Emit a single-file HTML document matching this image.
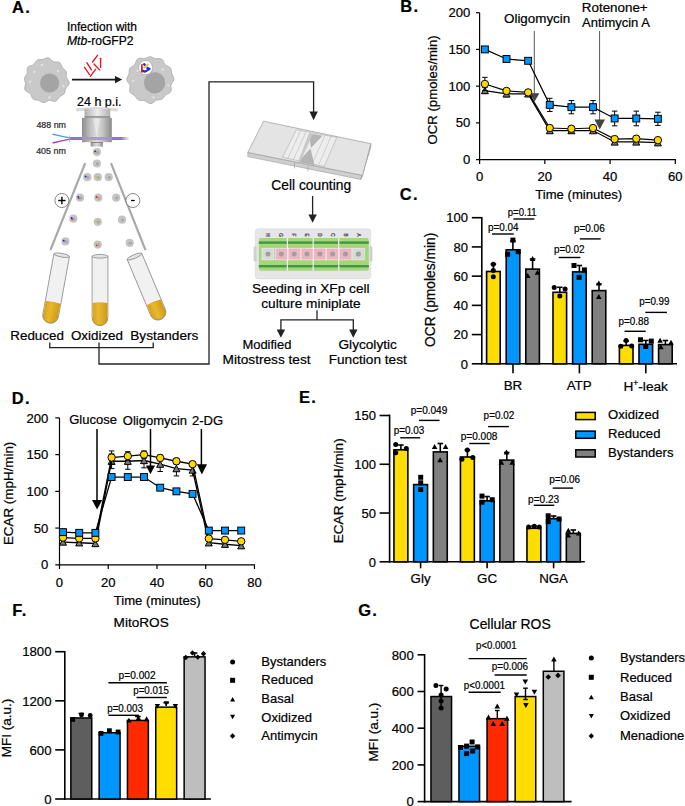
<!DOCTYPE html><html><head><meta charset="utf-8"><style>html,body{margin:0;padding:0;background:#fff}svg{display:block}</style></head><body>
<svg width="685" height="806" viewBox="0 0 685 806" font-family="'Liberation Sans', sans-serif">
<style>text{stroke:currentColor;stroke-width:0.22px;paint-order:stroke}</style>
<rect width="685" height="806" fill="#fff"/>
<defs>
<linearGradient id="gbody" x1="0" x2="1" y1="0" y2="0">
<stop offset="0" stop-color="#8e8e8e"/><stop offset="0.3" stop-color="#c4c4c4"/><stop offset="0.5" stop-color="#dcdcdc"/><stop offset="0.7" stop-color="#c4c4c4"/><stop offset="1" stop-color="#8a8a8a"/>
</linearGradient>
<linearGradient id="gtop" x1="0" x2="1" y1="0" y2="0">
<stop offset="0" stop-color="#b0b0b0"/><stop offset="0.5" stop-color="#eeeeee"/><stop offset="1" stop-color="#b0b0b0"/>
</linearGradient>
<linearGradient id="gliq" x1="0" x2="1" y1="0" y2="0">
<stop offset="0" stop-color="#d9a21a"/><stop offset="0.4" stop-color="#e8b830"/><stop offset="1" stop-color="#d29a14"/>
</linearGradient>
<linearGradient id="glaserB" x1="0" x2="1"><stop offset="0" stop-color="#3aa0e0" stop-opacity="0.2"/><stop offset="1" stop-color="#2a70d8"/></linearGradient>
<linearGradient id="glaserP" x1="0" x2="1"><stop offset="0" stop-color="#9a40c0" stop-opacity="0.2"/><stop offset="1" stop-color="#8a3ac0"/></linearGradient>
<linearGradient id="glaser" x1="0" x2="1"><stop offset="0" stop-color="#5a50d0"/><stop offset="0.85" stop-color="#6060e0"/><stop offset="1" stop-color="#8a60e0" stop-opacity="0.1"/></linearGradient>
</defs>
<text x="12.00" y="12.90" font-size="16.5" text-anchor="start" font-weight="bold" fill="#000"  letter-spacing="1.3">A.</text>
<text x="67.00" y="30.70" font-size="12" text-anchor="start" font-weight="normal" fill="#000" >Infection with</text>
<text x="67.0" y="45.2" font-size="12.1"><tspan font-style="italic">Mtb</tspan>-roGFP2</text>
<path d="M68.44,80.60 L69.15,82.20 L69.10,83.82 L68.28,85.29 L67.07,86.58 L65.99,87.80 L65.36,89.13 L65.10,90.65 L64.84,92.25 L64.21,93.69 L63.10,94.78 L61.68,95.55 L60.30,96.26 L59.17,97.20 L58.26,98.48 L57.34,99.89 L56.15,101.00 L54.62,101.44 L52.89,101.20 L51.20,100.65 L49.68,100.32 L48.30,100.56 L46.92,101.32 L45.45,102.17 L43.89,102.62 L42.36,102.40 L40.95,101.66 L39.63,100.81 L38.27,100.23 L36.74,99.99 L35.11,99.80 L33.59,99.29 L32.43,98.23 L31.68,96.73 L31.14,95.14 L30.45,93.82 L29.32,92.86 L27.79,92.10 L26.22,91.22 L25.09,90.00 L24.68,88.43 L24.90,86.71 L25.31,85.04 L25.47,83.51 L25.19,82.07 L24.71,80.60 L24.43,79.08 L24.68,77.58 L25.45,76.19 L26.39,74.92 L27.05,73.63 L27.24,72.16 L27.14,70.47 L27.20,68.73 L27.81,67.24 L29.07,66.22 L30.72,65.65 L32.35,65.22 L33.66,64.55 L34.62,63.43 L35.47,62.02 L36.49,60.70 L37.82,59.85 L39.37,59.57 L40.96,59.59 L42.48,59.50 L43.94,59.06 L45.42,58.36 L47.00,57.81 L48.59,57.86 L50.07,58.65 L51.36,59.90 L52.54,61.10 L53.79,61.82 L55.28,61.99 L56.98,61.93 L58.67,62.12 L60.04,62.88 L60.97,64.19 L61.59,65.74 L62.20,67.18 L63.08,68.33 L64.25,69.32 L65.41,70.38 L66.20,71.70 L66.43,73.24 L66.27,74.85 L66.16,76.36 L66.50,77.75 L67.37,79.12 L68.44,80.60Z" fill="#c9c9c9" stroke="#a9a9a9" stroke-width="0.8"/>
<circle cx="49.6" cy="83.0" r="9.6" fill="#a4a4a4"/>
<circle cx="41.88" cy="65.05" r="1.2" fill="#e2e2e2"/>
<circle cx="58.08" cy="70.88" r="1.2" fill="#e2e2e2"/>
<circle cx="30.00" cy="81.68" r="1.2" fill="#e2e2e2"/>
<circle cx="49.44" cy="97.45" r="1.2" fill="#e2e2e2"/>
<circle cx="34.32" cy="71.96" r="1.2" fill="#e2e2e2"/>
<circle cx="63.48" cy="86.00" r="1.2" fill="#e2e2e2"/>
<path d="M173.86,79.70 L173.20,81.31 L172.16,82.79 L171.26,84.18 L170.89,85.63 L171.02,87.28 L171.27,89.08 L171.14,90.83 L170.32,92.27 L168.92,93.30 L167.30,94.05 L165.87,94.83 L164.76,95.87 L163.85,97.17 L162.85,98.45 L161.56,99.37 L159.99,99.78 L158.35,99.87 L156.82,100.06 L155.44,100.70 L154.09,101.78 L152.64,102.95 L151.04,103.66 L149.37,103.56 L147.78,102.74 L146.33,101.64 L144.94,100.79 L143.46,100.45 L141.80,100.49 L140.07,100.47 L138.48,100.00 L137.20,98.97 L136.20,97.62 L135.25,96.30 L134.10,95.25 L132.68,94.40 L131.22,93.49 L130.10,92.26 L129.62,90.64 L129.73,88.82 L130.03,87.04 L130.03,85.48 L129.45,84.11 L128.41,82.76 L127.39,81.30 L126.88,79.70 L127.09,78.08 L127.81,76.55 L128.60,75.11 L129.07,73.64 L129.20,72.06 L129.27,70.38 L129.70,68.80 L130.69,67.51 L132.08,66.54 L133.51,65.70 L134.64,64.68 L135.39,63.25 L136.00,61.52 L136.81,59.85 L138.06,58.68 L139.73,58.24 L141.57,58.35 L143.34,58.58 L144.91,58.49 L146.37,57.95 L147.84,57.23 L149.40,56.76 L151.00,56.85 L152.54,57.46 L153.99,58.21 L155.44,58.67 L157.02,58.71 L158.75,58.54 L160.49,58.61 L161.97,59.31 L163.05,60.65 L163.77,62.33 L164.44,63.89 L165.39,65.03 L166.78,65.79 L168.41,66.47 L169.90,67.39 L170.89,68.70 L171.32,70.30 L171.48,71.96 L171.76,73.52 L172.38,74.99 L173.21,76.47 L173.84,78.05 L173.86,79.70Z" fill="#c9c9c9" stroke="#a9a9a9" stroke-width="0.8"/>
<circle cx="154.6" cy="82.8" r="10.6" fill="#a4a4a4"/>
<circle cx="145.68" cy="63.43" r="1.2" fill="#e2e2e2"/>
<circle cx="162.63" cy="69.53" r="1.2" fill="#e2e2e2"/>
<circle cx="133.25" cy="80.83" r="1.2" fill="#e2e2e2"/>
<circle cx="153.59" cy="97.33" r="1.2" fill="#e2e2e2"/>
<circle cx="137.77" cy="70.66" r="1.2" fill="#e2e2e2"/>
<circle cx="168.28" cy="85.35" r="1.2" fill="#e2e2e2"/>
<circle cx="145.6" cy="67.7" r="7.1" fill="#ffffff" stroke="#9a9a9a" stroke-width="0.6"/>
<path d="M141.1,70.4 L145.0,71.6 L149.6,68.9 L146.6,67.4" stroke="#1428f0" stroke-width="2.2" fill="none" stroke-linejoin="round"/>
<path d="M143.4,63.4 L145.3,65.4" stroke="#1428f0" stroke-width="2.2" fill="none"/>
<path d="M143.8,68.0 L148.5,63.8" stroke="#e8c21e" stroke-width="1.8"/>
<path d="M141.9,64.2 L141.9,72.4" stroke="#f01010" stroke-width="1.7"/>
<line x1="72.00" y1="79.60" x2="116.00" y2="79.60" stroke="#1a1a1a" stroke-width="1.6" />
<polygon points="115.00,75.90 122.20,79.60 115.00,83.30" fill="#1a1a1a" stroke="none" stroke-width="0" />
<line x1="84.60" y1="67.30" x2="89.40" y2="74.50" stroke="#f5101a" stroke-width="1.35" stroke-linecap="round"/>
<line x1="86.80" y1="62.70" x2="91.40" y2="69.90" stroke="#f5101a" stroke-width="1.35" stroke-linecap="round"/>
<line x1="90.30" y1="76.30" x2="95.50" y2="69.30" stroke="#f5101a" stroke-width="1.35" stroke-linecap="round"/>
<line x1="92.50" y1="62.00" x2="97.50" y2="55.30" stroke="#f5101a" stroke-width="1.35" stroke-linecap="round"/>
<line x1="94.00" y1="64.00" x2="99.60" y2="69.90" stroke="#f5101a" stroke-width="1.35" stroke-linecap="round"/>
<line x1="100.60" y1="58.30" x2="100.60" y2="67.30" stroke="#f5101a" stroke-width="1.35" stroke-linecap="round"/>
<text x="77.00" y="105.70" font-size="12.5" text-anchor="start" font-weight="normal" fill="#000" >24 h p.i.</text>
<path d="M75.6,108.6 Q96.9,105.5 118.2,108.6 L117.2,111.4 Q96.9,109.0 76.6,111.4 Z" fill="#dadada"/>
<rect x="84.5" y="108.8" width="25.7" height="8.9" fill="url(#gtop)"/>
<rect x="84.5" y="116.2" width="25.7" height="1.6" fill="#8a8a8a"/>
<rect x="82.0" y="117.9" width="29.8" height="24.3" fill="url(#gbody)"/>
<path d="M93.2,118.5 L96.6,137 L100.4,118.5 Z" fill="#ececec" opacity="0.75"/>
<rect x="90.7" y="142.2" width="12.2" height="4.4" fill="url(#gbody)"/>
<rect x="90.7" y="142.2" width="12.2" height="0.8" fill="#777"/>
<path d="M52.5,134.2 Q62,136.6 70,137.9" stroke="#3aa0e0" stroke-width="1.3" fill="none"/>
<path d="M52.5,143.0 Q62,140.6 70,139.2" stroke="#a040b8" stroke-width="1.3" fill="none"/>
<line x1="69.50" y1="135.50" x2="69.50" y2="141.80" stroke="#b0b0b0" stroke-width="0.9" />
<defs><linearGradient id="gfade" x1="0" x2="1"><stop offset="0" stop-color="#fff" stop-opacity="0"/><stop offset="1" stop-color="#fff" stop-opacity="0.9"/></linearGradient></defs>
<rect x="70" y="137.2" width="59" height="1.3" fill="#2f6ad8"/>
<rect x="70" y="138.5" width="59" height="1.3" fill="#8a3cc0"/>
<rect x="82" y="137.0" width="29.8" height="3.0" fill="#c8c8c8" opacity="0.55"/>
<rect x="121" y="137.0" width="8" height="3.0" fill="url(#gfade)"/>
<text x="36.40" y="127.70" font-size="8.9" text-anchor="start" font-weight="normal" fill="#333" >488 nm</text>
<text x="36.20" y="153.60" font-size="8.9" text-anchor="start" font-weight="normal" fill="#333" >405 nm</text>
<circle cx="96.90" cy="152.10" r="4.1" fill="#c4c4c4"/>
<circle cx="97.50" cy="152.40" r="1.6" fill="#a8a8a8"/>
<circle cx="95.20" cy="151.50" r="1.0" fill="#2030d0"/>
<circle cx="95.70" cy="153.00" r="0.8" fill="#e8b820"/>
<circle cx="96.90" cy="163.50" r="4.1" fill="#c4c4c4"/>
<circle cx="97.50" cy="163.80" r="1.6" fill="#a8a8a8"/>
<circle cx="87.30" cy="177.20" r="4.1" fill="#c4c4c4"/>
<circle cx="87.90" cy="177.50" r="1.6" fill="#a8a8a8"/>
<circle cx="85.60" cy="176.60" r="1.0" fill="#2030d0"/>
<circle cx="97.80" cy="177.20" r="4.1" fill="#c4c4c4"/>
<circle cx="98.40" cy="177.50" r="1.6" fill="#a8a8a8"/>
<circle cx="96.10" cy="176.60" r="1.0" fill="#e8b820"/>
<circle cx="108.70" cy="177.20" r="4.1" fill="#c4c4c4"/>
<circle cx="109.30" cy="177.50" r="1.6" fill="#a8a8a8"/>
<circle cx="80.00" cy="197.70" r="4.1" fill="#c4c4c4"/>
<circle cx="80.60" cy="198.00" r="1.6" fill="#a8a8a8"/>
<circle cx="78.30" cy="197.10" r="1.0" fill="#2030d0"/>
<circle cx="78.80" cy="198.60" r="0.8" fill="#e02020"/>
<circle cx="98.30" cy="197.70" r="4.1" fill="#c4c4c4"/>
<circle cx="98.90" cy="198.00" r="1.6" fill="#a8a8a8"/>
<circle cx="96.60" cy="197.10" r="1.0" fill="#e02020"/>
<circle cx="97.10" cy="198.60" r="0.8" fill="#e8b820"/>
<circle cx="116.20" cy="197.70" r="4.1" fill="#c4c4c4"/>
<circle cx="116.80" cy="198.00" r="1.6" fill="#a8a8a8"/>
<circle cx="73.30" cy="218.70" r="4.1" fill="#c4c4c4"/>
<circle cx="73.90" cy="219.00" r="1.6" fill="#a8a8a8"/>
<circle cx="71.60" cy="218.10" r="1.0" fill="#2030d0"/>
<circle cx="72.10" cy="219.60" r="0.8" fill="#e02020"/>
<circle cx="97.80" cy="221.80" r="4.1" fill="#c4c4c4"/>
<circle cx="98.40" cy="222.10" r="1.6" fill="#a8a8a8"/>
<circle cx="96.10" cy="221.20" r="1.0" fill="#e8b820"/>
<circle cx="122.00" cy="219.70" r="4.1" fill="#c4c4c4"/>
<circle cx="122.60" cy="220.00" r="1.6" fill="#a8a8a8"/>
<circle cx="65.40" cy="241.40" r="4.1" fill="#c4c4c4"/>
<circle cx="66.00" cy="241.70" r="1.6" fill="#a8a8a8"/>
<circle cx="63.70" cy="240.80" r="1.0" fill="#2030d0"/>
<circle cx="97.80" cy="244.60" r="4.1" fill="#c4c4c4"/>
<circle cx="98.40" cy="244.90" r="1.6" fill="#a8a8a8"/>
<circle cx="96.10" cy="244.00" r="1.0" fill="#e8b820"/>
<circle cx="96.60" cy="245.50" r="0.8" fill="#e02020"/>
<circle cx="129.70" cy="242.90" r="4.1" fill="#c4c4c4"/>
<circle cx="130.30" cy="243.20" r="1.6" fill="#a8a8a8"/>
<line x1="85.20" y1="163.10" x2="50.50" y2="249.90" stroke="#a8a8a8" stroke-width="2.2" />
<line x1="111.00" y1="163.10" x2="145.50" y2="250.20" stroke="#a8a8a8" stroke-width="2.2" />
<circle cx="61.9" cy="200.5" r="7" fill="#fff" stroke="#555" stroke-width="0.7"/>
<line x1="58.20" y1="200.50" x2="65.60" y2="200.50" stroke="#000" stroke-width="1.4" />
<line x1="61.90" y1="196.80" x2="61.90" y2="204.20" stroke="#000" stroke-width="1.4" />
<circle cx="132.9" cy="200.5" r="7" fill="#fff" stroke="#555" stroke-width="0.7"/>
<line x1="131.00" y1="200.50" x2="134.80" y2="200.50" stroke="#000" stroke-width="1.3" />
<g transform="rotate(0 100.00 256.30)">
<path d="M92.10,256.30 L92.10,317.80 A7.9,7.9 0 0 0 107.90,317.80 L107.90,256.30 Z" fill="#f1f1f1" stroke="#8c8c8c" stroke-width="0.8"/>
<path d="M92.60,303.00 Q100.00,301.50 107.40,303.00 L107.40,317.80 A7.4,7.4 0 0 1 92.60,317.80 Z" fill="url(#gliq)"/>
<path d="M107.40,317.80 A7.4,7.4 0 0 1 92.60,317.80" fill="none" stroke="#b88a10" stroke-width="0.7"/>
<ellipse cx="100.00" cy="256.30" rx="7.90" ry="1.8" fill="#e4e4e4" stroke="#8c8c8c" stroke-width="0.8"/>
</g>
<g transform="rotate(10.4 61.70 255.20)">
<path d="M53.80,255.20 L53.80,316.40 A7.9,7.9 0 0 0 69.60,316.40 L69.60,255.20 Z" fill="#f1f1f1" stroke="#8c8c8c" stroke-width="0.8"/>
<path d="M54.30,303.20 Q61.70,301.70 69.10,303.20 L69.10,316.40 A7.4,7.4 0 0 1 54.30,316.40 Z" fill="url(#gliq)"/>
<path d="M69.10,316.40 A7.4,7.4 0 0 1 54.30,316.40" fill="none" stroke="#b88a10" stroke-width="0.7"/>
<ellipse cx="61.70" cy="255.20" rx="7.90" ry="1.8" fill="#e4e4e4" stroke="#8c8c8c" stroke-width="0.8"/>
</g>
<g transform="rotate(-22.8 134.50 256.50)">
<path d="M126.60,256.50 L126.60,316.90 A7.9,7.9 0 0 0 142.40,316.90 L142.40,256.50 Z" fill="#f1f1f1" stroke="#8c8c8c" stroke-width="0.8"/>
<path d="M127.10,306.20 Q134.50,304.70 141.90,306.20 L141.90,316.90 A7.4,7.4 0 0 1 127.10,316.90 Z" fill="url(#gliq)"/>
<path d="M141.90,316.90 A7.4,7.4 0 0 1 127.10,316.90" fill="none" stroke="#b88a10" stroke-width="0.7"/>
<ellipse cx="134.50" cy="256.50" rx="7.90" ry="1.8" fill="#e4e4e4" stroke="#8c8c8c" stroke-width="0.8"/>
</g>
<text x="10.30" y="339.60" font-size="13.4" text-anchor="start" font-weight="normal" fill="#000" >Reduced</text>
<text x="70.90" y="339.60" font-size="13.4" text-anchor="start" font-weight="normal" fill="#000" >Oxidized</text>
<text x="130.30" y="339.60" font-size="13.6" text-anchor="start" font-weight="normal" fill="#000" >Bystanders</text>
<polyline points="49.80,342.50 49.80,347.60 153.20,347.60 153.20,342.50" fill="none" stroke="#222" stroke-width="1.3" />
<polyline points="99.00,342.50 99.00,364.00 209.00,364.00 209.00,81.90 313.60,81.90 313.60,112.00" fill="none" stroke="#222" stroke-width="1.3" />
<polygon points="309.40,111.60 317.80,111.60 313.60,120.20" fill="#222" stroke="none" stroke-width="0" />
<polygon points="247.80,152.50 362.60,175.40 360.60,179.40 247.80,156.60" fill="#cfcfcf" stroke="#9a9a9a" stroke-width="0.6" />
<polygon points="362.60,175.40 370.80,143.70 370.80,147.60 360.60,179.40" fill="#c4c4c4" stroke="#9a9a9a" stroke-width="0.6" />
<polygon points="263.50,121.20 370.80,143.70 362.60,175.40 247.80,152.50" fill="#e4e4e4" stroke="#9a9a9a" stroke-width="0.7" />
<polygon points="296.30,129.80 336.80,137.50 324.20,166.50 282.60,157.20" fill="#ededed" stroke="#a4a4a4" stroke-width="0.5" />
<line x1="300.50" y1="131.00" x2="287.50" y2="159.00" stroke="#b0b0b0" stroke-width="0.5" />
<line x1="306.00" y1="132.00" x2="293.00" y2="160.30" stroke="#b0b0b0" stroke-width="0.5" />
<line x1="325.00" y1="135.50" x2="312.00" y2="163.80" stroke="#b0b0b0" stroke-width="0.5" />
<line x1="331.00" y1="136.50" x2="318.50" y2="165.20" stroke="#b0b0b0" stroke-width="0.5" />
<polygon points="309.00,133.20 322.50,135.80 311.00,148.00" fill="#b4b4b4" stroke="none" stroke-width="0" />
<polygon points="310.50,148.50 314.50,165.00 298.00,162.00" fill="#b4b4b4" stroke="none" stroke-width="0" />
<polygon points="309.00,133.20 313.00,134.00 300.00,162.30 298.00,162.00" fill="#c8c8c8" stroke="none" stroke-width="0" />
<line x1="294.50" y1="163.00" x2="294.50" y2="168.50" stroke="#999" stroke-width="0.6" />
<line x1="308.00" y1="166.00" x2="308.00" y2="171.50" stroke="#999" stroke-width="0.6" />
<text x="271.30" y="190.30" font-size="13.8" text-anchor="start" font-weight="normal" fill="#000" >Cell counting</text>
<line x1="312.60" y1="196.00" x2="312.60" y2="215.50" stroke="#222" stroke-width="1.3" />
<polygon points="308.40,214.50 316.80,214.50 312.60,222.70" fill="#222" stroke="none" stroke-width="0" />
<rect x="255.3" y="228.8" width="115.5" height="50.1" rx="3" fill="#e6e6e6" stroke="#d6d6d6" stroke-width="0.6"/>
<rect x="253.6" y="246.5" width="3" height="15" fill="#d0d0d0"/><rect x="369.5" y="246.5" width="3" height="15" fill="#d0d0d0"/>
<rect x="258.8" y="238.0" width="110" height="32.7" rx="2" fill="#a6d67c"/>
<rect x="258.8" y="241.4" width="110" height="2.4" fill="#3d9a3d"/>
<rect x="258.8" y="265.0" width="110" height="2.4" fill="#3d9a3d"/>
<rect x="286.80" y="238" width="1.2" height="32.7" fill="#f4f4f4"/>
<rect x="312.60" y="238" width="1.2" height="32.7" fill="#f4f4f4"/>
<rect x="338.10" y="238" width="1.2" height="32.7" fill="#f4f4f4"/>
<rect x="262.00" y="248.2" width="12" height="11.7" fill="#d8d8d8" stroke="#f8f8f8" stroke-width="0.5"/>
<circle cx="268.00" cy="254.1" r="2.5" fill="#a0a0a0"/>
<rect x="275.30" y="248.2" width="12" height="11.7" fill="#efb3c3" stroke="#f8f8f8" stroke-width="0.5"/>
<circle cx="281.30" cy="254.1" r="2.5" fill="#a0a0a0"/>
<rect x="288.20" y="248.2" width="12" height="11.7" fill="#efb3c3" stroke="#f8f8f8" stroke-width="0.5"/>
<circle cx="294.20" cy="254.1" r="2.5" fill="#a0a0a0"/>
<rect x="301.00" y="248.2" width="12" height="11.7" fill="#efb3c3" stroke="#f8f8f8" stroke-width="0.5"/>
<circle cx="307.00" cy="254.1" r="2.5" fill="#a0a0a0"/>
<rect x="313.80" y="248.2" width="12" height="11.7" fill="#efb3c3" stroke="#f8f8f8" stroke-width="0.5"/>
<circle cx="319.80" cy="254.1" r="2.5" fill="#a0a0a0"/>
<rect x="326.60" y="248.2" width="12" height="11.7" fill="#efb3c3" stroke="#f8f8f8" stroke-width="0.5"/>
<circle cx="332.60" cy="254.1" r="2.5" fill="#a0a0a0"/>
<rect x="339.40" y="248.2" width="12" height="11.7" fill="#efb3c3" stroke="#f8f8f8" stroke-width="0.5"/>
<circle cx="345.40" cy="254.1" r="2.5" fill="#a0a0a0"/>
<rect x="352.40" y="248.2" width="12" height="11.7" fill="#d8d8d8" stroke="#f8f8f8" stroke-width="0.5"/>
<circle cx="358.40" cy="254.1" r="2.5" fill="#a0a0a0"/>
<text x="268.00" y="236.6" font-size="4.6" fill="#555" text-anchor="middle" transform="rotate(90 268.00 235)">H</text>
<text x="280.90" y="236.6" font-size="4.6" fill="#555" text-anchor="middle" transform="rotate(90 280.90 235)">G</text>
<text x="293.80" y="236.6" font-size="4.6" fill="#555" text-anchor="middle" transform="rotate(90 293.80 235)">F</text>
<text x="306.70" y="236.6" font-size="4.6" fill="#555" text-anchor="middle" transform="rotate(90 306.70 235)">E</text>
<text x="319.60" y="236.6" font-size="4.6" fill="#555" text-anchor="middle" transform="rotate(90 319.60 235)">D</text>
<text x="332.50" y="236.6" font-size="4.6" fill="#555" text-anchor="middle" transform="rotate(90 332.50 235)">C</text>
<text x="345.40" y="236.6" font-size="4.6" fill="#555" text-anchor="middle" transform="rotate(90 345.40 235)">B</text>
<text x="358.30" y="236.6" font-size="4.6" fill="#555" text-anchor="middle" transform="rotate(90 358.30 235)">A</text>
<text x="252.00" y="292.70" font-size="13.65" text-anchor="start" font-weight="normal" fill="#000" >Seeding in XFp cell</text>
<text x="261.30" y="307.80" font-size="13.65" text-anchor="start" font-weight="normal" fill="#000" >culture miniplate</text>
<polyline points="317.00,310.20 317.00,319.80" fill="none" stroke="#222" stroke-width="1.3" />
<polyline points="280.90,330.00 280.90,319.80 353.30,319.80 353.30,330.00" fill="none" stroke="#222" stroke-width="1.3" />
<polygon points="276.70,329.50 285.10,329.50 280.90,337.70" fill="#222" stroke="none" stroke-width="0" />
<polygon points="349.10,329.50 357.50,329.50 353.30,337.70" fill="#222" stroke="none" stroke-width="0" />
<text x="242.40" y="348.70" font-size="13.65" text-anchor="start" font-weight="normal" fill="#000" textLength="49.0" lengthAdjust="spacingAndGlyphs" >Modified</text>
<text x="222.60" y="364.00" font-size="13.65" text-anchor="start" font-weight="normal" fill="#000" >Mitostress test</text>
<text x="338.50" y="348.70" font-size="13.65" text-anchor="start" font-weight="normal" fill="#000" >Glycolytic</text>
<text x="328.70" y="364.30" font-size="13.65" text-anchor="start" font-weight="normal" fill="#000" >Function test</text>
<text x="400.30" y="12.30" font-size="16.5" text-anchor="start" font-weight="bold" fill="#000"  letter-spacing="1.3">B.</text>
<line x1="534.30" y1="31.00" x2="534.30" y2="94.00" stroke="#555" stroke-width="1.0" />
<polygon points="529.80,93.30 539.40,93.30 534.60,101.60" fill="#444" stroke="none" stroke-width="0" />
<line x1="599.60" y1="31.00" x2="599.60" y2="120.00" stroke="#555" stroke-width="1.0" />
<polygon points="594.40,119.60 605.00,119.60 599.70,129.50" fill="#444" stroke="none" stroke-width="0" />
<text x="504.00" y="22.60" font-size="13.4" text-anchor="start" font-weight="normal" fill="#000" >Oligomycin</text>
<text x="581.80" y="11.60" font-size="13.4" text-anchor="start" font-weight="normal" fill="#000" >Rotenone+</text>
<text x="582.00" y="27.00" font-size="13.0" text-anchor="start" font-weight="normal" fill="#000" >Antimycin A</text>
<line x1="479.60" y1="12.70" x2="479.60" y2="164.00" stroke="#000" stroke-width="1.2" />
<line x1="476.00" y1="159.60" x2="676.00" y2="159.60" stroke="#000" stroke-width="1.2" />
<line x1="476.00" y1="122.88" x2="479.60" y2="122.88" stroke="#000" stroke-width="1.2" />
<line x1="476.00" y1="86.15" x2="479.60" y2="86.15" stroke="#000" stroke-width="1.2" />
<line x1="476.00" y1="49.42" x2="479.60" y2="49.42" stroke="#000" stroke-width="1.2" />
<line x1="476.00" y1="12.70" x2="479.60" y2="12.70" stroke="#000" stroke-width="1.2" />
<line x1="544.84" y1="159.60" x2="544.84" y2="164.00" stroke="#000" stroke-width="1.2" />
<line x1="610.08" y1="159.60" x2="610.08" y2="164.00" stroke="#000" stroke-width="1.2" />
<line x1="675.32" y1="159.60" x2="675.32" y2="164.00" stroke="#000" stroke-width="1.2" />
<text x="470.30" y="164.00" font-size="13.1" text-anchor="end" font-weight="normal" fill="#000" >0</text>
<text x="470.30" y="127.28" font-size="13.1" text-anchor="end" font-weight="normal" fill="#000" >50</text>
<text x="470.30" y="90.55" font-size="13.1" text-anchor="end" font-weight="normal" fill="#000" >100</text>
<text x="470.30" y="53.82" font-size="13.1" text-anchor="end" font-weight="normal" fill="#000" >150</text>
<text x="470.30" y="17.10" font-size="13.1" text-anchor="end" font-weight="normal" fill="#000" >200</text>
<text x="479.60" y="181.40" font-size="13.1" text-anchor="middle" font-weight="normal" fill="#000" >0</text>
<text x="544.84" y="181.40" font-size="13.1" text-anchor="middle" font-weight="normal" fill="#000" >20</text>
<text x="610.08" y="181.40" font-size="13.1" text-anchor="middle" font-weight="normal" fill="#000" >40</text>
<text x="675.32" y="181.40" font-size="13.1" text-anchor="middle" font-weight="normal" fill="#000" >60</text>
<text x="578.70" y="198.60" font-size="13.1" text-anchor="middle" font-weight="normal" fill="#000" >Time (minutes)</text>
<text transform="translate(436.8 89.9) rotate(-90)" font-size="13.2" text-anchor="middle">OCR (pmoles/min)</text>
<polyline points="484.88,90.56 506.51,93.86 528.14,93.86 549.77,130.59 571.39,130.59 593.02,130.59 614.65,141.97 636.27,141.97 657.90,142.71" fill="none" stroke="#000" stroke-width="1.2" />
<line x1="484.88" y1="87.62" x2="484.88" y2="93.49" stroke="#000" stroke-width="1.0" />
<line x1="482.13" y1="87.62" x2="487.63" y2="87.62" stroke="#000" stroke-width="1.0" />
<line x1="482.13" y1="93.49" x2="487.63" y2="93.49" stroke="#000" stroke-width="1.0" />
<line x1="506.51" y1="90.92" x2="506.51" y2="96.80" stroke="#000" stroke-width="1.0" />
<line x1="503.76" y1="90.92" x2="509.26" y2="90.92" stroke="#000" stroke-width="1.0" />
<line x1="503.76" y1="96.80" x2="509.26" y2="96.80" stroke="#000" stroke-width="1.0" />
<line x1="528.14" y1="91.66" x2="528.14" y2="96.07" stroke="#000" stroke-width="1.0" />
<line x1="525.39" y1="91.66" x2="530.89" y2="91.66" stroke="#000" stroke-width="1.0" />
<line x1="525.39" y1="96.07" x2="530.89" y2="96.07" stroke="#000" stroke-width="1.0" />
<line x1="549.77" y1="128.38" x2="549.77" y2="132.79" stroke="#000" stroke-width="1.0" />
<line x1="547.02" y1="128.38" x2="552.52" y2="128.38" stroke="#000" stroke-width="1.0" />
<line x1="547.02" y1="132.79" x2="552.52" y2="132.79" stroke="#000" stroke-width="1.0" />
<line x1="571.39" y1="128.38" x2="571.39" y2="132.79" stroke="#000" stroke-width="1.0" />
<line x1="568.64" y1="128.38" x2="574.14" y2="128.38" stroke="#000" stroke-width="1.0" />
<line x1="568.64" y1="132.79" x2="574.14" y2="132.79" stroke="#000" stroke-width="1.0" />
<line x1="593.02" y1="128.38" x2="593.02" y2="132.79" stroke="#000" stroke-width="1.0" />
<line x1="590.27" y1="128.38" x2="595.77" y2="128.38" stroke="#000" stroke-width="1.0" />
<line x1="590.27" y1="132.79" x2="595.77" y2="132.79" stroke="#000" stroke-width="1.0" />
<line x1="614.65" y1="139.77" x2="614.65" y2="144.18" stroke="#000" stroke-width="1.0" />
<line x1="611.90" y1="139.77" x2="617.40" y2="139.77" stroke="#000" stroke-width="1.0" />
<line x1="611.90" y1="144.18" x2="617.40" y2="144.18" stroke="#000" stroke-width="1.0" />
<line x1="636.27" y1="139.77" x2="636.27" y2="144.18" stroke="#000" stroke-width="1.0" />
<line x1="633.52" y1="139.77" x2="639.02" y2="139.77" stroke="#000" stroke-width="1.0" />
<line x1="633.52" y1="144.18" x2="639.02" y2="144.18" stroke="#000" stroke-width="1.0" />
<line x1="657.90" y1="140.50" x2="657.90" y2="144.91" stroke="#000" stroke-width="1.0" />
<line x1="655.15" y1="140.50" x2="660.65" y2="140.50" stroke="#000" stroke-width="1.0" />
<line x1="655.15" y1="144.91" x2="660.65" y2="144.91" stroke="#000" stroke-width="1.0" />
<polygon points="481.38,93.71 488.38,93.71 484.88,87.41" fill="#7a7a7a" stroke="#000" stroke-width="1.0" />
<polygon points="503.01,97.01 510.01,97.01 506.51,90.71" fill="#7a7a7a" stroke="#000" stroke-width="1.0" />
<polygon points="524.64,97.01 531.64,97.01 528.14,90.71" fill="#7a7a7a" stroke="#000" stroke-width="1.0" />
<polygon points="546.27,133.74 553.27,133.74 549.77,127.44" fill="#7a7a7a" stroke="#000" stroke-width="1.0" />
<polygon points="567.89,133.74 574.89,133.74 571.39,127.44" fill="#7a7a7a" stroke="#000" stroke-width="1.0" />
<polygon points="589.52,133.74 596.52,133.74 593.02,127.44" fill="#7a7a7a" stroke="#000" stroke-width="1.0" />
<polygon points="611.15,145.12 618.15,145.12 614.65,138.82" fill="#7a7a7a" stroke="#000" stroke-width="1.0" />
<polygon points="632.77,145.12 639.77,145.12 636.27,138.82" fill="#7a7a7a" stroke="#000" stroke-width="1.0" />
<polygon points="654.40,145.86 661.40,145.86 657.90,139.56" fill="#7a7a7a" stroke="#000" stroke-width="1.0" />
<polyline points="484.88,83.95 506.51,90.92 528.14,92.39 549.77,128.02 571.39,128.75 593.02,128.02 614.65,139.03 636.27,138.67 657.90,140.14" fill="none" stroke="#000" stroke-width="1.2" />
<line x1="484.88" y1="77.34" x2="484.88" y2="90.56" stroke="#000" stroke-width="1.0" />
<line x1="482.13" y1="77.34" x2="487.63" y2="77.34" stroke="#000" stroke-width="1.0" />
<line x1="482.13" y1="90.56" x2="487.63" y2="90.56" stroke="#000" stroke-width="1.0" />
<line x1="506.51" y1="88.72" x2="506.51" y2="93.13" stroke="#000" stroke-width="1.0" />
<line x1="503.76" y1="88.72" x2="509.26" y2="88.72" stroke="#000" stroke-width="1.0" />
<line x1="503.76" y1="93.13" x2="509.26" y2="93.13" stroke="#000" stroke-width="1.0" />
<line x1="528.14" y1="90.92" x2="528.14" y2="93.86" stroke="#000" stroke-width="1.0" />
<line x1="525.39" y1="90.92" x2="530.89" y2="90.92" stroke="#000" stroke-width="1.0" />
<line x1="525.39" y1="93.86" x2="530.89" y2="93.86" stroke="#000" stroke-width="1.0" />
<line x1="549.77" y1="126.55" x2="549.77" y2="129.49" stroke="#000" stroke-width="1.0" />
<line x1="547.02" y1="126.55" x2="552.52" y2="126.55" stroke="#000" stroke-width="1.0" />
<line x1="547.02" y1="129.49" x2="552.52" y2="129.49" stroke="#000" stroke-width="1.0" />
<line x1="571.39" y1="127.28" x2="571.39" y2="130.22" stroke="#000" stroke-width="1.0" />
<line x1="568.64" y1="127.28" x2="574.14" y2="127.28" stroke="#000" stroke-width="1.0" />
<line x1="568.64" y1="130.22" x2="574.14" y2="130.22" stroke="#000" stroke-width="1.0" />
<line x1="593.02" y1="126.55" x2="593.02" y2="129.49" stroke="#000" stroke-width="1.0" />
<line x1="590.27" y1="126.55" x2="595.77" y2="126.55" stroke="#000" stroke-width="1.0" />
<line x1="590.27" y1="129.49" x2="595.77" y2="129.49" stroke="#000" stroke-width="1.0" />
<line x1="614.65" y1="137.56" x2="614.65" y2="140.50" stroke="#000" stroke-width="1.0" />
<line x1="611.90" y1="137.56" x2="617.40" y2="137.56" stroke="#000" stroke-width="1.0" />
<line x1="611.90" y1="140.50" x2="617.40" y2="140.50" stroke="#000" stroke-width="1.0" />
<line x1="636.27" y1="137.20" x2="636.27" y2="140.14" stroke="#000" stroke-width="1.0" />
<line x1="633.52" y1="137.20" x2="639.02" y2="137.20" stroke="#000" stroke-width="1.0" />
<line x1="633.52" y1="140.14" x2="639.02" y2="140.14" stroke="#000" stroke-width="1.0" />
<line x1="657.90" y1="138.67" x2="657.90" y2="141.60" stroke="#000" stroke-width="1.0" />
<line x1="655.15" y1="138.67" x2="660.65" y2="138.67" stroke="#000" stroke-width="1.0" />
<line x1="655.15" y1="141.60" x2="660.65" y2="141.60" stroke="#000" stroke-width="1.0" />
<circle cx="484.88" cy="83.95" r="3.70" fill="#FFD800" stroke="#000" stroke-width="1.0"/>
<circle cx="506.51" cy="90.92" r="3.70" fill="#FFD800" stroke="#000" stroke-width="1.0"/>
<circle cx="528.14" cy="92.39" r="3.70" fill="#FFD800" stroke="#000" stroke-width="1.0"/>
<circle cx="549.77" cy="128.02" r="3.70" fill="#FFD800" stroke="#000" stroke-width="1.0"/>
<circle cx="571.39" cy="128.75" r="3.70" fill="#FFD800" stroke="#000" stroke-width="1.0"/>
<circle cx="593.02" cy="128.02" r="3.70" fill="#FFD800" stroke="#000" stroke-width="1.0"/>
<circle cx="614.65" cy="139.03" r="3.70" fill="#FFD800" stroke="#000" stroke-width="1.0"/>
<circle cx="636.27" cy="138.67" r="3.70" fill="#FFD800" stroke="#000" stroke-width="1.0"/>
<circle cx="657.90" cy="140.14" r="3.70" fill="#FFD800" stroke="#000" stroke-width="1.0"/>
<polyline points="484.88,49.42 506.51,58.97 528.14,60.81 549.77,104.88 571.39,107.16 593.02,107.16 614.65,118.47 636.27,118.47 657.90,118.84" fill="none" stroke="#000" stroke-width="1.2" />
<line x1="484.88" y1="47.96" x2="484.88" y2="50.89" stroke="#000" stroke-width="1.0" />
<line x1="482.13" y1="47.96" x2="487.63" y2="47.96" stroke="#000" stroke-width="1.0" />
<line x1="482.13" y1="50.89" x2="487.63" y2="50.89" stroke="#000" stroke-width="1.0" />
<line x1="506.51" y1="56.77" x2="506.51" y2="61.18" stroke="#000" stroke-width="1.0" />
<line x1="503.76" y1="56.77" x2="509.26" y2="56.77" stroke="#000" stroke-width="1.0" />
<line x1="503.76" y1="61.18" x2="509.26" y2="61.18" stroke="#000" stroke-width="1.0" />
<line x1="528.14" y1="58.61" x2="528.14" y2="63.01" stroke="#000" stroke-width="1.0" />
<line x1="525.39" y1="58.61" x2="530.89" y2="58.61" stroke="#000" stroke-width="1.0" />
<line x1="525.39" y1="63.01" x2="530.89" y2="63.01" stroke="#000" stroke-width="1.0" />
<line x1="549.77" y1="98.27" x2="549.77" y2="111.49" stroke="#000" stroke-width="1.0" />
<line x1="547.02" y1="98.27" x2="552.52" y2="98.27" stroke="#000" stroke-width="1.0" />
<line x1="547.02" y1="111.49" x2="552.52" y2="111.49" stroke="#000" stroke-width="1.0" />
<line x1="571.39" y1="100.55" x2="571.39" y2="113.77" stroke="#000" stroke-width="1.0" />
<line x1="568.64" y1="100.55" x2="574.14" y2="100.55" stroke="#000" stroke-width="1.0" />
<line x1="568.64" y1="113.77" x2="574.14" y2="113.77" stroke="#000" stroke-width="1.0" />
<line x1="593.02" y1="100.55" x2="593.02" y2="113.77" stroke="#000" stroke-width="1.0" />
<line x1="590.27" y1="100.55" x2="595.77" y2="100.55" stroke="#000" stroke-width="1.0" />
<line x1="590.27" y1="113.77" x2="595.77" y2="113.77" stroke="#000" stroke-width="1.0" />
<line x1="614.65" y1="111.12" x2="614.65" y2="125.81" stroke="#000" stroke-width="1.0" />
<line x1="611.90" y1="111.12" x2="617.40" y2="111.12" stroke="#000" stroke-width="1.0" />
<line x1="611.90" y1="125.81" x2="617.40" y2="125.81" stroke="#000" stroke-width="1.0" />
<line x1="636.27" y1="111.12" x2="636.27" y2="125.81" stroke="#000" stroke-width="1.0" />
<line x1="633.52" y1="111.12" x2="639.02" y2="111.12" stroke="#000" stroke-width="1.0" />
<line x1="633.52" y1="125.81" x2="639.02" y2="125.81" stroke="#000" stroke-width="1.0" />
<line x1="657.90" y1="112.22" x2="657.90" y2="125.45" stroke="#000" stroke-width="1.0" />
<line x1="655.15" y1="112.22" x2="660.65" y2="112.22" stroke="#000" stroke-width="1.0" />
<line x1="655.15" y1="125.45" x2="660.65" y2="125.45" stroke="#000" stroke-width="1.0" />
<rect x="481.43" y="45.97" width="6.90" height="6.90" fill="#0096FF" stroke="#000" stroke-width="1.0"/>
<rect x="503.06" y="55.52" width="6.90" height="6.90" fill="#0096FF" stroke="#000" stroke-width="1.0"/>
<rect x="524.69" y="57.36" width="6.90" height="6.90" fill="#0096FF" stroke="#000" stroke-width="1.0"/>
<rect x="546.32" y="101.43" width="6.90" height="6.90" fill="#0096FF" stroke="#000" stroke-width="1.0"/>
<rect x="567.94" y="103.71" width="6.90" height="6.90" fill="#0096FF" stroke="#000" stroke-width="1.0"/>
<rect x="589.57" y="103.71" width="6.90" height="6.90" fill="#0096FF" stroke="#000" stroke-width="1.0"/>
<rect x="611.20" y="115.02" width="6.90" height="6.90" fill="#0096FF" stroke="#000" stroke-width="1.0"/>
<rect x="632.82" y="115.02" width="6.90" height="6.90" fill="#0096FF" stroke="#000" stroke-width="1.0"/>
<rect x="654.45" y="115.39" width="6.90" height="6.90" fill="#0096FF" stroke="#000" stroke-width="1.0"/>
<text x="399.80" y="199.60" font-size="16.5" text-anchor="start" font-weight="bold" fill="#000"  letter-spacing="1.3">C.</text>
<line x1="481.80" y1="216.90" x2="481.80" y2="364.60" stroke="#000" stroke-width="1.6" />
<line x1="481.00" y1="363.80" x2="677.00" y2="363.80" stroke="#000" stroke-width="1.6" />
<line x1="471.80" y1="363.80" x2="481.80" y2="363.80" stroke="#000" stroke-width="1.6" />
<text x="468.00" y="368.50" font-size="13.0" text-anchor="end" font-weight="normal" fill="#000" >0</text>
<line x1="471.80" y1="334.58" x2="481.80" y2="334.58" stroke="#000" stroke-width="1.6" />
<text x="468.00" y="339.28" font-size="13.0" text-anchor="end" font-weight="normal" fill="#000" >20</text>
<line x1="471.80" y1="305.36" x2="481.80" y2="305.36" stroke="#000" stroke-width="1.6" />
<text x="468.00" y="310.06" font-size="13.0" text-anchor="end" font-weight="normal" fill="#000" >40</text>
<line x1="471.80" y1="276.14" x2="481.80" y2="276.14" stroke="#000" stroke-width="1.6" />
<text x="468.00" y="280.84" font-size="13.0" text-anchor="end" font-weight="normal" fill="#000" >60</text>
<line x1="471.80" y1="246.92" x2="481.80" y2="246.92" stroke="#000" stroke-width="1.6" />
<text x="468.00" y="251.62" font-size="13.0" text-anchor="end" font-weight="normal" fill="#000" >80</text>
<line x1="471.80" y1="217.70" x2="481.80" y2="217.70" stroke="#000" stroke-width="1.6" />
<text x="468.00" y="222.40" font-size="13.0" text-anchor="end" font-weight="normal" fill="#000" >100</text>
<text transform="translate(434.8 289.8) rotate(-90)" font-size="13.8" text-anchor="middle">OCR (pmoles/min)</text>
<rect x="486.60" y="271.50" width="13.60" height="92.30" fill="#FFDD00" stroke="#000" stroke-width="1.6"/>
<rect x="506.20" y="249.80" width="13.60" height="114.00" fill="#0096FF" stroke="#000" stroke-width="1.6"/>
<rect x="525.80" y="269.10" width="13.60" height="94.70" fill="#808080" stroke="#000" stroke-width="1.6"/>
<line x1="513.00" y1="363.80" x2="513.00" y2="373.30" stroke="#000" stroke-width="1.6" />
<rect x="553.00" y="292.30" width="13.60" height="71.50" fill="#FFDD00" stroke="#000" stroke-width="1.6"/>
<rect x="572.60" y="271.90" width="13.60" height="91.90" fill="#0096FF" stroke="#000" stroke-width="1.6"/>
<rect x="592.20" y="290.60" width="13.60" height="73.20" fill="#808080" stroke="#000" stroke-width="1.6"/>
<line x1="579.40" y1="363.80" x2="579.40" y2="373.30" stroke="#000" stroke-width="1.6" />
<rect x="619.40" y="345.40" width="13.60" height="18.40" fill="#FFDD00" stroke="#000" stroke-width="1.6"/>
<rect x="639.00" y="344.30" width="13.60" height="19.50" fill="#0096FF" stroke="#000" stroke-width="1.6"/>
<rect x="658.60" y="344.60" width="13.60" height="19.20" fill="#808080" stroke="#000" stroke-width="1.6"/>
<line x1="645.80" y1="363.80" x2="645.80" y2="373.30" stroke="#000" stroke-width="1.6" />
<text x="513.00" y="389.70" font-size="13.4" text-anchor="middle" font-weight="normal" fill="#000" >BR</text>
<text x="579.20" y="389.70" font-size="13.4" text-anchor="middle" font-weight="normal" fill="#000" >ATP</text>
<text x="645.7" y="390.9" font-size="13.7" text-anchor="middle">H<tspan font-size="8.5" dy="-5">+</tspan><tspan dy="5">-leak</tspan></text>
<line x1="493.40" y1="264.00" x2="493.40" y2="271.00" stroke="#000" stroke-width="1.6" />
<line x1="490.65" y1="264.00" x2="496.15" y2="264.00" stroke="#000" stroke-width="1.6" />
<line x1="512.90" y1="241.00" x2="512.90" y2="249.50" stroke="#000" stroke-width="1.6" />
<line x1="510.15" y1="241.00" x2="515.65" y2="241.00" stroke="#000" stroke-width="1.6" />
<line x1="532.60" y1="259.00" x2="532.60" y2="269.00" stroke="#000" stroke-width="1.6" />
<line x1="529.85" y1="259.00" x2="535.35" y2="259.00" stroke="#000" stroke-width="1.6" />
<line x1="559.80" y1="287.30" x2="559.80" y2="292.00" stroke="#000" stroke-width="1.6" />
<line x1="557.05" y1="287.30" x2="562.55" y2="287.30" stroke="#000" stroke-width="1.6" />
<line x1="579.40" y1="265.50" x2="579.40" y2="271.50" stroke="#000" stroke-width="1.6" />
<line x1="576.65" y1="265.50" x2="582.15" y2="265.50" stroke="#000" stroke-width="1.6" />
<line x1="599.00" y1="284.00" x2="599.00" y2="290.00" stroke="#000" stroke-width="1.6" />
<line x1="596.25" y1="284.00" x2="601.75" y2="284.00" stroke="#000" stroke-width="1.6" />
<line x1="626.20" y1="341.00" x2="626.20" y2="345.00" stroke="#000" stroke-width="1.6" />
<line x1="623.45" y1="341.00" x2="628.95" y2="341.00" stroke="#000" stroke-width="1.6" />
<line x1="645.80" y1="340.50" x2="645.80" y2="344.00" stroke="#000" stroke-width="1.6" />
<line x1="643.05" y1="340.50" x2="648.55" y2="340.50" stroke="#000" stroke-width="1.6" />
<line x1="665.40" y1="340.50" x2="665.40" y2="344.00" stroke="#000" stroke-width="1.6" />
<line x1="662.65" y1="340.50" x2="668.15" y2="340.50" stroke="#000" stroke-width="1.6" />
<circle cx="493.30" cy="264.20" r="2.50" fill="#000" stroke="none" stroke-width="0"/>
<circle cx="493.30" cy="270.50" r="2.50" fill="#000" stroke="none" stroke-width="0"/>
<circle cx="493.30" cy="276.80" r="2.50" fill="#000" stroke="none" stroke-width="0"/>
<rect x="510.40" y="237.60" width="5.00" height="5.00" fill="#000" stroke="none" stroke-width="0"/>
<rect x="505.10" y="251.80" width="5.00" height="5.00" fill="#000" stroke="none" stroke-width="0"/>
<rect x="515.70" y="249.20" width="5.00" height="5.00" fill="#000" stroke="none" stroke-width="0"/>
<polygon points="529.80,261.12 535.40,261.12 532.60,256.08" fill="#000" stroke="none" stroke-width="0" />
<polygon points="524.90,278.02 530.50,278.02 527.70,272.98" fill="#000" stroke="none" stroke-width="0" />
<polygon points="534.70,274.82 540.30,274.82 537.50,269.78" fill="#000" stroke="none" stroke-width="0" />
<circle cx="554.20" cy="287.50" r="2.50" fill="#000" stroke="none" stroke-width="0"/>
<circle cx="565.10" cy="289.10" r="2.50" fill="#000" stroke="none" stroke-width="0"/>
<circle cx="559.80" cy="296.00" r="2.50" fill="#000" stroke="none" stroke-width="0"/>
<rect x="571.50" y="263.00" width="5.00" height="5.00" fill="#000" stroke="none" stroke-width="0"/>
<rect x="581.90" y="267.40" width="5.00" height="5.00" fill="#000" stroke="none" stroke-width="0"/>
<rect x="576.60" y="274.90" width="5.00" height="5.00" fill="#000" stroke="none" stroke-width="0"/>
<polygon points="596.00,285.62 601.60,285.62 598.80,280.58" fill="#000" stroke="none" stroke-width="0" />
<polygon points="596.00,299.02 601.60,299.02 598.80,293.98" fill="#000" stroke="none" stroke-width="0" />
<circle cx="620.80" cy="346.20" r="2.50" fill="#000" stroke="none" stroke-width="0"/>
<circle cx="626.10" cy="340.60" r="2.50" fill="#000" stroke="none" stroke-width="0"/>
<circle cx="631.70" cy="345.90" r="2.50" fill="#000" stroke="none" stroke-width="0"/>
<rect x="638.00" y="337.30" width="5.00" height="5.00" fill="#000" stroke="none" stroke-width="0"/>
<rect x="648.80" y="338.60" width="5.00" height="5.00" fill="#000" stroke="none" stroke-width="0"/>
<rect x="643.20" y="344.00" width="5.00" height="5.00" fill="#000" stroke="none" stroke-width="0"/>
<polygon points="657.30,342.82 662.90,342.82 660.10,337.78" fill="#000" stroke="none" stroke-width="0" />
<polygon points="668.20,344.72 673.80,344.72 671.00,339.68" fill="#000" stroke="none" stroke-width="0" />
<polygon points="658.10,349.22 663.70,349.22 660.90,344.18" fill="#000" stroke="none" stroke-width="0" />
<text x="488.00" y="230.50" font-size="10.9" text-anchor="start" font-weight="normal" fill="#000" textLength="30.6" lengthAdjust="spacingAndGlyphs" >p=0.04</text>
<line x1="492.00" y1="234.00" x2="513.70" y2="234.00" stroke="#000" stroke-width="1.4" />
<text x="507.80" y="216.00" font-size="10.9" text-anchor="start" font-weight="normal" fill="#000" textLength="28.8" lengthAdjust="spacingAndGlyphs" >p=0.11</text>
<line x1="513.40" y1="219.00" x2="534.30" y2="219.00" stroke="#000" stroke-width="1.4" />
<text x="553.90" y="252.70" font-size="10.9" text-anchor="start" font-weight="normal" fill="#000" textLength="30.6" lengthAdjust="spacingAndGlyphs" >p=0.02</text>
<line x1="558.70" y1="257.50" x2="580.40" y2="257.50" stroke="#000" stroke-width="1.4" />
<text x="573.90" y="231.70" font-size="10.9" text-anchor="start" font-weight="normal" fill="#000" textLength="30.8" lengthAdjust="spacingAndGlyphs" >p=0.06</text>
<line x1="579.80" y1="238.90" x2="600.70" y2="238.90" stroke="#000" stroke-width="1.4" />
<text x="618.40" y="324.50" font-size="10.9" text-anchor="start" font-weight="normal" fill="#000" textLength="30.6" lengthAdjust="spacingAndGlyphs" >p=0.88</text>
<line x1="624.50" y1="331.30" x2="645.70" y2="331.30" stroke="#000" stroke-width="1.4" />
<text x="639.20" y="304.80" font-size="10.9" text-anchor="start" font-weight="normal" fill="#000" textLength="30.3" lengthAdjust="spacingAndGlyphs" >p=0.99</text>
<line x1="645.30" y1="312.40" x2="666.90" y2="312.40" stroke="#000" stroke-width="1.4" />
<text x="11.80" y="404.00" font-size="16.5" text-anchor="start" font-weight="bold" fill="#000"  letter-spacing="1.3">D.</text>
<line x1="97.00" y1="429.00" x2="97.00" y2="501.00" stroke="#000" stroke-width="1.5" />
<polygon points="92.00,500.00 102.20,500.00 97.10,509.50" fill="#000" stroke="none" stroke-width="0" />
<line x1="150.50" y1="429.00" x2="150.50" y2="466.00" stroke="#000" stroke-width="1.5" />
<polygon points="145.90,465.60 155.00,465.60 150.45,474.20" fill="#000" stroke="none" stroke-width="0" />
<line x1="201.40" y1="429.00" x2="201.40" y2="465.00" stroke="#000" stroke-width="1.5" />
<polygon points="196.80,464.20 207.00,464.20 201.90,474.40" fill="#000" stroke="none" stroke-width="0" />
<text x="69.20" y="424.10" font-size="13.0" text-anchor="start" font-weight="normal" fill="#000" >Glucose</text>
<text x="122.80" y="425.40" font-size="13.0" text-anchor="start" font-weight="normal" fill="#000" >Oligomycin</text>
<text x="192.00" y="425.40" font-size="13.0" text-anchor="start" font-weight="normal" fill="#000" >2-DG</text>
<line x1="59.50" y1="417.90" x2="59.50" y2="569.00" stroke="#000" stroke-width="1.2" />
<line x1="55.30" y1="564.80" x2="255.00" y2="564.80" stroke="#000" stroke-width="1.2" />
<line x1="55.30" y1="528.07" x2="59.50" y2="528.07" stroke="#000" stroke-width="1.2" />
<line x1="55.30" y1="491.35" x2="59.50" y2="491.35" stroke="#000" stroke-width="1.2" />
<line x1="55.30" y1="454.62" x2="59.50" y2="454.62" stroke="#000" stroke-width="1.2" />
<line x1="55.30" y1="417.90" x2="59.50" y2="417.90" stroke="#000" stroke-width="1.2" />
<line x1="108.24" y1="564.80" x2="108.24" y2="569.00" stroke="#000" stroke-width="1.2" />
<line x1="156.98" y1="564.80" x2="156.98" y2="569.00" stroke="#000" stroke-width="1.2" />
<line x1="205.72" y1="564.80" x2="205.72" y2="569.00" stroke="#000" stroke-width="1.2" />
<line x1="254.46" y1="564.80" x2="254.46" y2="569.00" stroke="#000" stroke-width="1.2" />
<text x="48.30" y="569.40" font-size="13.1" text-anchor="end" font-weight="normal" fill="#000" >0</text>
<text x="48.30" y="532.67" font-size="13.1" text-anchor="end" font-weight="normal" fill="#000" >50</text>
<text x="48.30" y="495.95" font-size="13.1" text-anchor="end" font-weight="normal" fill="#000" >100</text>
<text x="48.30" y="459.22" font-size="13.1" text-anchor="end" font-weight="normal" fill="#000" >150</text>
<text x="48.30" y="422.50" font-size="13.1" text-anchor="end" font-weight="normal" fill="#000" >200</text>
<text x="59.50" y="586.60" font-size="13.1" text-anchor="middle" font-weight="normal" fill="#000" >0</text>
<text x="108.24" y="586.60" font-size="13.1" text-anchor="middle" font-weight="normal" fill="#000" >20</text>
<text x="156.98" y="586.60" font-size="13.1" text-anchor="middle" font-weight="normal" fill="#000" >40</text>
<text x="205.72" y="586.60" font-size="13.1" text-anchor="middle" font-weight="normal" fill="#000" >60</text>
<text x="254.46" y="586.60" font-size="13.1" text-anchor="middle" font-weight="normal" fill="#000" >80</text>
<text x="157.20" y="605.20" font-size="13.1" text-anchor="middle" font-weight="normal" fill="#000" >Time (minutes)</text>
<text transform="translate(13.0 493.4) rotate(-90)" font-size="13.4" text-anchor="middle">ECAR (mpH/min)</text>
<polyline points="63.00,542.03 79.20,542.76 95.40,543.50 111.60,461.24 127.80,461.24 144.00,460.50 160.20,464.17 176.40,468.58 192.60,470.05 208.80,542.76 225.00,544.23 241.20,545.70" fill="none" stroke="#000" stroke-width="1.3" />
<line x1="63.00" y1="539.83" x2="63.00" y2="544.23" stroke="#000" stroke-width="1.0" />
<line x1="60.25" y1="539.83" x2="65.75" y2="539.83" stroke="#000" stroke-width="1.0" />
<line x1="60.25" y1="544.23" x2="65.75" y2="544.23" stroke="#000" stroke-width="1.0" />
<line x1="79.20" y1="540.56" x2="79.20" y2="544.97" stroke="#000" stroke-width="1.0" />
<line x1="76.45" y1="540.56" x2="81.95" y2="540.56" stroke="#000" stroke-width="1.0" />
<line x1="76.45" y1="544.97" x2="81.95" y2="544.97" stroke="#000" stroke-width="1.0" />
<line x1="95.40" y1="541.30" x2="95.40" y2="545.70" stroke="#000" stroke-width="1.0" />
<line x1="92.65" y1="541.30" x2="98.15" y2="541.30" stroke="#000" stroke-width="1.0" />
<line x1="92.65" y1="545.70" x2="98.15" y2="545.70" stroke="#000" stroke-width="1.0" />
<line x1="111.60" y1="453.89" x2="111.60" y2="468.58" stroke="#000" stroke-width="1.0" />
<line x1="108.85" y1="453.89" x2="114.35" y2="453.89" stroke="#000" stroke-width="1.0" />
<line x1="108.85" y1="468.58" x2="114.35" y2="468.58" stroke="#000" stroke-width="1.0" />
<line x1="127.80" y1="453.16" x2="127.80" y2="469.31" stroke="#000" stroke-width="1.0" />
<line x1="125.05" y1="453.16" x2="130.55" y2="453.16" stroke="#000" stroke-width="1.0" />
<line x1="125.05" y1="469.31" x2="130.55" y2="469.31" stroke="#000" stroke-width="1.0" />
<line x1="144.00" y1="453.16" x2="144.00" y2="467.85" stroke="#000" stroke-width="1.0" />
<line x1="141.25" y1="453.16" x2="146.75" y2="453.16" stroke="#000" stroke-width="1.0" />
<line x1="141.25" y1="467.85" x2="146.75" y2="467.85" stroke="#000" stroke-width="1.0" />
<line x1="160.20" y1="456.83" x2="160.20" y2="471.52" stroke="#000" stroke-width="1.0" />
<line x1="157.45" y1="456.83" x2="162.95" y2="456.83" stroke="#000" stroke-width="1.0" />
<line x1="157.45" y1="471.52" x2="162.95" y2="471.52" stroke="#000" stroke-width="1.0" />
<line x1="176.40" y1="461.24" x2="176.40" y2="475.93" stroke="#000" stroke-width="1.0" />
<line x1="173.65" y1="461.24" x2="179.15" y2="461.24" stroke="#000" stroke-width="1.0" />
<line x1="173.65" y1="475.93" x2="179.15" y2="475.93" stroke="#000" stroke-width="1.0" />
<line x1="192.60" y1="464.17" x2="192.60" y2="475.93" stroke="#000" stroke-width="1.0" />
<line x1="189.85" y1="464.17" x2="195.35" y2="464.17" stroke="#000" stroke-width="1.0" />
<line x1="189.85" y1="475.93" x2="195.35" y2="475.93" stroke="#000" stroke-width="1.0" />
<line x1="208.80" y1="540.56" x2="208.80" y2="544.97" stroke="#000" stroke-width="1.0" />
<line x1="206.05" y1="540.56" x2="211.55" y2="540.56" stroke="#000" stroke-width="1.0" />
<line x1="206.05" y1="544.97" x2="211.55" y2="544.97" stroke="#000" stroke-width="1.0" />
<line x1="225.00" y1="542.03" x2="225.00" y2="546.44" stroke="#000" stroke-width="1.0" />
<line x1="222.25" y1="542.03" x2="227.75" y2="542.03" stroke="#000" stroke-width="1.0" />
<line x1="222.25" y1="546.44" x2="227.75" y2="546.44" stroke="#000" stroke-width="1.0" />
<line x1="241.20" y1="543.50" x2="241.20" y2="547.91" stroke="#000" stroke-width="1.0" />
<line x1="238.45" y1="543.50" x2="243.95" y2="543.50" stroke="#000" stroke-width="1.0" />
<line x1="238.45" y1="547.91" x2="243.95" y2="547.91" stroke="#000" stroke-width="1.0" />
<polygon points="59.50,545.18 66.50,545.18 63.00,538.88" fill="#7a7a7a" stroke="#000" stroke-width="1.0" />
<polygon points="75.70,545.91 82.70,545.91 79.20,539.62" fill="#7a7a7a" stroke="#000" stroke-width="1.0" />
<polygon points="91.90,546.65 98.90,546.65 95.40,540.35" fill="#7a7a7a" stroke="#000" stroke-width="1.0" />
<polygon points="108.10,464.39 115.10,464.39 111.60,458.09" fill="#7a7a7a" stroke="#000" stroke-width="1.0" />
<polygon points="124.30,464.39 131.30,464.39 127.80,458.09" fill="#7a7a7a" stroke="#000" stroke-width="1.0" />
<polygon points="140.50,463.65 147.50,463.65 144.00,457.35" fill="#7a7a7a" stroke="#000" stroke-width="1.0" />
<polygon points="156.70,467.32 163.70,467.32 160.20,461.02" fill="#7a7a7a" stroke="#000" stroke-width="1.0" />
<polygon points="172.90,471.73 179.90,471.73 176.40,465.43" fill="#7a7a7a" stroke="#000" stroke-width="1.0" />
<polygon points="189.10,473.20 196.10,473.20 192.60,466.90" fill="#7a7a7a" stroke="#000" stroke-width="1.0" />
<polygon points="205.30,545.91 212.30,545.91 208.80,539.62" fill="#7a7a7a" stroke="#000" stroke-width="1.0" />
<polygon points="221.50,547.38 228.50,547.38 225.00,541.08" fill="#7a7a7a" stroke="#000" stroke-width="1.0" />
<polygon points="237.70,548.85 244.70,548.85 241.20,542.55" fill="#7a7a7a" stroke="#000" stroke-width="1.0" />
<polyline points="63.00,537.62 79.20,538.36 95.40,538.36 111.60,457.56 127.80,456.09 144.00,454.62 160.20,457.93 176.40,461.24 192.60,464.17 208.80,538.58 225.00,539.83 241.20,541.30" fill="none" stroke="#000" stroke-width="1.3" />
<line x1="63.00" y1="535.42" x2="63.00" y2="539.83" stroke="#000" stroke-width="1.0" />
<line x1="60.25" y1="535.42" x2="65.75" y2="535.42" stroke="#000" stroke-width="1.0" />
<line x1="60.25" y1="539.83" x2="65.75" y2="539.83" stroke="#000" stroke-width="1.0" />
<line x1="79.20" y1="536.15" x2="79.20" y2="540.56" stroke="#000" stroke-width="1.0" />
<line x1="76.45" y1="536.15" x2="81.95" y2="536.15" stroke="#000" stroke-width="1.0" />
<line x1="76.45" y1="540.56" x2="81.95" y2="540.56" stroke="#000" stroke-width="1.0" />
<line x1="95.40" y1="536.15" x2="95.40" y2="540.56" stroke="#000" stroke-width="1.0" />
<line x1="92.65" y1="536.15" x2="98.15" y2="536.15" stroke="#000" stroke-width="1.0" />
<line x1="92.65" y1="540.56" x2="98.15" y2="540.56" stroke="#000" stroke-width="1.0" />
<line x1="111.60" y1="450.95" x2="111.60" y2="464.17" stroke="#000" stroke-width="1.0" />
<line x1="108.85" y1="450.95" x2="114.35" y2="450.95" stroke="#000" stroke-width="1.0" />
<line x1="108.85" y1="464.17" x2="114.35" y2="464.17" stroke="#000" stroke-width="1.0" />
<line x1="127.80" y1="451.69" x2="127.80" y2="460.50" stroke="#000" stroke-width="1.0" />
<line x1="125.05" y1="451.69" x2="130.55" y2="451.69" stroke="#000" stroke-width="1.0" />
<line x1="125.05" y1="460.50" x2="130.55" y2="460.50" stroke="#000" stroke-width="1.0" />
<line x1="144.00" y1="450.95" x2="144.00" y2="458.30" stroke="#000" stroke-width="1.0" />
<line x1="141.25" y1="450.95" x2="146.75" y2="450.95" stroke="#000" stroke-width="1.0" />
<line x1="141.25" y1="458.30" x2="146.75" y2="458.30" stroke="#000" stroke-width="1.0" />
<line x1="160.20" y1="454.99" x2="160.20" y2="460.87" stroke="#000" stroke-width="1.0" />
<line x1="157.45" y1="454.99" x2="162.95" y2="454.99" stroke="#000" stroke-width="1.0" />
<line x1="157.45" y1="460.87" x2="162.95" y2="460.87" stroke="#000" stroke-width="1.0" />
<line x1="176.40" y1="458.30" x2="176.40" y2="464.17" stroke="#000" stroke-width="1.0" />
<line x1="173.65" y1="458.30" x2="179.15" y2="458.30" stroke="#000" stroke-width="1.0" />
<line x1="173.65" y1="464.17" x2="179.15" y2="464.17" stroke="#000" stroke-width="1.0" />
<line x1="192.60" y1="461.97" x2="192.60" y2="466.38" stroke="#000" stroke-width="1.0" />
<line x1="189.85" y1="461.97" x2="195.35" y2="461.97" stroke="#000" stroke-width="1.0" />
<line x1="189.85" y1="466.38" x2="195.35" y2="466.38" stroke="#000" stroke-width="1.0" />
<line x1="208.80" y1="536.37" x2="208.80" y2="540.78" stroke="#000" stroke-width="1.0" />
<line x1="206.05" y1="536.37" x2="211.55" y2="536.37" stroke="#000" stroke-width="1.0" />
<line x1="206.05" y1="540.78" x2="211.55" y2="540.78" stroke="#000" stroke-width="1.0" />
<line x1="225.00" y1="537.62" x2="225.00" y2="542.03" stroke="#000" stroke-width="1.0" />
<line x1="222.25" y1="537.62" x2="227.75" y2="537.62" stroke="#000" stroke-width="1.0" />
<line x1="222.25" y1="542.03" x2="227.75" y2="542.03" stroke="#000" stroke-width="1.0" />
<line x1="241.20" y1="539.09" x2="241.20" y2="543.50" stroke="#000" stroke-width="1.0" />
<line x1="238.45" y1="539.09" x2="243.95" y2="539.09" stroke="#000" stroke-width="1.0" />
<line x1="238.45" y1="543.50" x2="243.95" y2="543.50" stroke="#000" stroke-width="1.0" />
<circle cx="63.00" cy="537.62" r="3.70" fill="#FFD800" stroke="#000" stroke-width="1.0"/>
<circle cx="79.20" cy="538.36" r="3.70" fill="#FFD800" stroke="#000" stroke-width="1.0"/>
<circle cx="95.40" cy="538.36" r="3.70" fill="#FFD800" stroke="#000" stroke-width="1.0"/>
<circle cx="111.60" cy="457.56" r="3.70" fill="#FFD800" stroke="#000" stroke-width="1.0"/>
<circle cx="127.80" cy="456.09" r="3.70" fill="#FFD800" stroke="#000" stroke-width="1.0"/>
<circle cx="144.00" cy="454.62" r="3.70" fill="#FFD800" stroke="#000" stroke-width="1.0"/>
<circle cx="160.20" cy="457.93" r="3.70" fill="#FFD800" stroke="#000" stroke-width="1.0"/>
<circle cx="176.40" cy="461.24" r="3.70" fill="#FFD800" stroke="#000" stroke-width="1.0"/>
<circle cx="192.60" cy="464.17" r="3.70" fill="#FFD800" stroke="#000" stroke-width="1.0"/>
<circle cx="208.80" cy="538.58" r="3.70" fill="#FFD800" stroke="#000" stroke-width="1.0"/>
<circle cx="225.00" cy="539.83" r="3.70" fill="#FFD800" stroke="#000" stroke-width="1.0"/>
<circle cx="241.20" cy="541.30" r="3.70" fill="#FFD800" stroke="#000" stroke-width="1.0"/>
<polyline points="63.00,532.11 79.20,532.85 95.40,532.85 111.60,477.03 127.80,477.03 144.00,477.03 160.20,487.68 176.40,491.35 192.60,493.92 208.80,530.57 225.00,530.57 241.20,530.57" fill="none" stroke="#000" stroke-width="1.3" />
<line x1="63.00" y1="530.65" x2="63.00" y2="533.58" stroke="#000" stroke-width="1.0" />
<line x1="60.25" y1="530.65" x2="65.75" y2="530.65" stroke="#000" stroke-width="1.0" />
<line x1="60.25" y1="533.58" x2="65.75" y2="533.58" stroke="#000" stroke-width="1.0" />
<line x1="79.20" y1="531.38" x2="79.20" y2="534.32" stroke="#000" stroke-width="1.0" />
<line x1="76.45" y1="531.38" x2="81.95" y2="531.38" stroke="#000" stroke-width="1.0" />
<line x1="76.45" y1="534.32" x2="81.95" y2="534.32" stroke="#000" stroke-width="1.0" />
<line x1="95.40" y1="531.38" x2="95.40" y2="534.32" stroke="#000" stroke-width="1.0" />
<line x1="92.65" y1="531.38" x2="98.15" y2="531.38" stroke="#000" stroke-width="1.0" />
<line x1="92.65" y1="534.32" x2="98.15" y2="534.32" stroke="#000" stroke-width="1.0" />
<line x1="111.60" y1="475.56" x2="111.60" y2="478.50" stroke="#000" stroke-width="1.0" />
<line x1="108.85" y1="475.56" x2="114.35" y2="475.56" stroke="#000" stroke-width="1.0" />
<line x1="108.85" y1="478.50" x2="114.35" y2="478.50" stroke="#000" stroke-width="1.0" />
<line x1="127.80" y1="475.56" x2="127.80" y2="478.50" stroke="#000" stroke-width="1.0" />
<line x1="125.05" y1="475.56" x2="130.55" y2="475.56" stroke="#000" stroke-width="1.0" />
<line x1="125.05" y1="478.50" x2="130.55" y2="478.50" stroke="#000" stroke-width="1.0" />
<line x1="144.00" y1="475.56" x2="144.00" y2="478.50" stroke="#000" stroke-width="1.0" />
<line x1="141.25" y1="475.56" x2="146.75" y2="475.56" stroke="#000" stroke-width="1.0" />
<line x1="141.25" y1="478.50" x2="146.75" y2="478.50" stroke="#000" stroke-width="1.0" />
<line x1="160.20" y1="486.21" x2="160.20" y2="489.15" stroke="#000" stroke-width="1.0" />
<line x1="157.45" y1="486.21" x2="162.95" y2="486.21" stroke="#000" stroke-width="1.0" />
<line x1="157.45" y1="489.15" x2="162.95" y2="489.15" stroke="#000" stroke-width="1.0" />
<line x1="176.40" y1="489.88" x2="176.40" y2="492.82" stroke="#000" stroke-width="1.0" />
<line x1="173.65" y1="489.88" x2="179.15" y2="489.88" stroke="#000" stroke-width="1.0" />
<line x1="173.65" y1="492.82" x2="179.15" y2="492.82" stroke="#000" stroke-width="1.0" />
<line x1="192.60" y1="492.45" x2="192.60" y2="495.39" stroke="#000" stroke-width="1.0" />
<line x1="189.85" y1="492.45" x2="195.35" y2="492.45" stroke="#000" stroke-width="1.0" />
<line x1="189.85" y1="495.39" x2="195.35" y2="495.39" stroke="#000" stroke-width="1.0" />
<line x1="208.80" y1="529.10" x2="208.80" y2="532.04" stroke="#000" stroke-width="1.0" />
<line x1="206.05" y1="529.10" x2="211.55" y2="529.10" stroke="#000" stroke-width="1.0" />
<line x1="206.05" y1="532.04" x2="211.55" y2="532.04" stroke="#000" stroke-width="1.0" />
<line x1="225.00" y1="529.10" x2="225.00" y2="532.04" stroke="#000" stroke-width="1.0" />
<line x1="222.25" y1="529.10" x2="227.75" y2="529.10" stroke="#000" stroke-width="1.0" />
<line x1="222.25" y1="532.04" x2="227.75" y2="532.04" stroke="#000" stroke-width="1.0" />
<line x1="241.20" y1="529.10" x2="241.20" y2="532.04" stroke="#000" stroke-width="1.0" />
<line x1="238.45" y1="529.10" x2="243.95" y2="529.10" stroke="#000" stroke-width="1.0" />
<line x1="238.45" y1="532.04" x2="243.95" y2="532.04" stroke="#000" stroke-width="1.0" />
<rect x="59.55" y="528.66" width="6.90" height="6.90" fill="#0096FF" stroke="#000" stroke-width="1.0"/>
<rect x="75.75" y="529.40" width="6.90" height="6.90" fill="#0096FF" stroke="#000" stroke-width="1.0"/>
<rect x="91.95" y="529.40" width="6.90" height="6.90" fill="#0096FF" stroke="#000" stroke-width="1.0"/>
<rect x="108.15" y="473.58" width="6.90" height="6.90" fill="#0096FF" stroke="#000" stroke-width="1.0"/>
<rect x="124.35" y="473.58" width="6.90" height="6.90" fill="#0096FF" stroke="#000" stroke-width="1.0"/>
<rect x="140.55" y="473.58" width="6.90" height="6.90" fill="#0096FF" stroke="#000" stroke-width="1.0"/>
<rect x="156.75" y="484.23" width="6.90" height="6.90" fill="#0096FF" stroke="#000" stroke-width="1.0"/>
<rect x="172.95" y="487.90" width="6.90" height="6.90" fill="#0096FF" stroke="#000" stroke-width="1.0"/>
<rect x="189.15" y="490.47" width="6.90" height="6.90" fill="#0096FF" stroke="#000" stroke-width="1.0"/>
<rect x="205.35" y="527.12" width="6.90" height="6.90" fill="#0096FF" stroke="#000" stroke-width="1.0"/>
<rect x="221.55" y="527.12" width="6.90" height="6.90" fill="#0096FF" stroke="#000" stroke-width="1.0"/>
<rect x="237.75" y="527.12" width="6.90" height="6.90" fill="#0096FF" stroke="#000" stroke-width="1.0"/>
<text x="299.00" y="403.00" font-size="16.5" text-anchor="start" font-weight="bold" fill="#000"  letter-spacing="1.3">E.</text>
<line x1="389.60" y1="414.60" x2="389.60" y2="562.60" stroke="#000" stroke-width="1.6" />
<line x1="388.80" y1="561.80" x2="584.80" y2="561.80" stroke="#000" stroke-width="1.6" />
<line x1="379.60" y1="561.80" x2="389.60" y2="561.80" stroke="#000" stroke-width="1.6" />
<text x="376.00" y="566.50" font-size="13.0" text-anchor="end" font-weight="normal" fill="#000" >0</text>
<line x1="379.60" y1="513.03" x2="389.60" y2="513.03" stroke="#000" stroke-width="1.6" />
<text x="376.00" y="517.74" font-size="13.0" text-anchor="end" font-weight="normal" fill="#000" >50</text>
<line x1="379.60" y1="464.27" x2="389.60" y2="464.27" stroke="#000" stroke-width="1.6" />
<text x="376.00" y="468.97" font-size="13.0" text-anchor="end" font-weight="normal" fill="#000" >100</text>
<line x1="379.60" y1="415.50" x2="389.60" y2="415.50" stroke="#000" stroke-width="1.6" />
<text x="376.00" y="420.20" font-size="13.0" text-anchor="end" font-weight="normal" fill="#000" >150</text>
<text transform="translate(342.6 490.8) rotate(-90)" font-size="13.6" text-anchor="middle">ECAR (mpH/min)</text>
<rect x="393.95" y="449.80" width="13.90" height="112.00" fill="#FFDD00" stroke="#000" stroke-width="1.6"/>
<rect x="413.65" y="484.60" width="13.90" height="77.20" fill="#0096FF" stroke="#000" stroke-width="1.6"/>
<rect x="433.35" y="451.90" width="13.90" height="109.90" fill="#808080" stroke="#000" stroke-width="1.6"/>
<line x1="420.60" y1="561.80" x2="420.60" y2="568.30" stroke="#000" stroke-width="1.6" />
<rect x="460.45" y="457.00" width="13.90" height="104.80" fill="#FFDD00" stroke="#000" stroke-width="1.6"/>
<rect x="480.15" y="500.90" width="13.90" height="60.90" fill="#0096FF" stroke="#000" stroke-width="1.6"/>
<rect x="499.85" y="460.10" width="13.90" height="101.70" fill="#808080" stroke="#000" stroke-width="1.6"/>
<line x1="487.10" y1="561.80" x2="487.10" y2="568.30" stroke="#000" stroke-width="1.6" />
<rect x="526.95" y="528.30" width="13.90" height="33.50" fill="#FFDD00" stroke="#000" stroke-width="1.6"/>
<rect x="546.65" y="518.70" width="13.90" height="43.10" fill="#0096FF" stroke="#000" stroke-width="1.6"/>
<rect x="566.35" y="533.40" width="13.90" height="28.40" fill="#808080" stroke="#000" stroke-width="1.6"/>
<line x1="553.60" y1="561.80" x2="553.60" y2="568.30" stroke="#000" stroke-width="1.6" />
<text x="420.60" y="583.40" font-size="13.3" text-anchor="middle" font-weight="normal" fill="#000" >Gly</text>
<text x="487.10" y="583.40" font-size="13.3" text-anchor="middle" font-weight="normal" fill="#000" >GC</text>
<text x="553.60" y="583.40" font-size="13.3" text-anchor="middle" font-weight="normal" fill="#000" >NGA</text>
<line x1="400.90" y1="445.00" x2="400.90" y2="450.00" stroke="#000" stroke-width="1.6" />
<line x1="398.15" y1="445.00" x2="403.65" y2="445.00" stroke="#000" stroke-width="1.6" />
<line x1="440.30" y1="443.50" x2="440.30" y2="452.00" stroke="#000" stroke-width="1.6" />
<line x1="437.55" y1="443.50" x2="443.05" y2="443.50" stroke="#000" stroke-width="1.6" />
<line x1="467.40" y1="450.00" x2="467.40" y2="457.00" stroke="#000" stroke-width="1.6" />
<line x1="464.65" y1="450.00" x2="470.15" y2="450.00" stroke="#000" stroke-width="1.6" />
<line x1="487.10" y1="496.50" x2="487.10" y2="501.00" stroke="#000" stroke-width="1.6" />
<line x1="484.35" y1="496.50" x2="489.85" y2="496.50" stroke="#000" stroke-width="1.6" />
<line x1="506.80" y1="452.50" x2="506.80" y2="460.00" stroke="#000" stroke-width="1.6" />
<line x1="504.05" y1="452.50" x2="509.55" y2="452.50" stroke="#000" stroke-width="1.6" />
<line x1="533.90" y1="526.00" x2="533.90" y2="528.50" stroke="#000" stroke-width="1.6" />
<line x1="531.15" y1="526.00" x2="536.65" y2="526.00" stroke="#000" stroke-width="1.6" />
<line x1="553.60" y1="516.00" x2="553.60" y2="519.00" stroke="#000" stroke-width="1.6" />
<line x1="550.85" y1="516.00" x2="556.35" y2="516.00" stroke="#000" stroke-width="1.6" />
<line x1="573.30" y1="530.00" x2="573.30" y2="533.50" stroke="#000" stroke-width="1.6" />
<line x1="570.55" y1="530.00" x2="576.05" y2="530.00" stroke="#000" stroke-width="1.6" />
<circle cx="395.70" cy="444.60" r="2.50" fill="#000" stroke="none" stroke-width="0"/>
<circle cx="406.30" cy="448.60" r="2.50" fill="#000" stroke="none" stroke-width="0"/>
<circle cx="395.70" cy="452.70" r="2.50" fill="#000" stroke="none" stroke-width="0"/>
<rect x="418.20" y="474.80" width="5.00" height="5.00" fill="#000" stroke="none" stroke-width="0"/>
<rect x="418.20" y="480.30" width="5.00" height="5.00" fill="#000" stroke="none" stroke-width="0"/>
<rect x="418.20" y="487.00" width="5.00" height="5.00" fill="#000" stroke="none" stroke-width="0"/>
<polygon points="431.80,449.12 437.40,449.12 434.60,444.08" fill="#000" stroke="none" stroke-width="0" />
<polygon points="442.80,449.12 448.40,449.12 445.60,444.08" fill="#000" stroke="none" stroke-width="0" />
<polygon points="437.30,462.22 442.90,462.22 440.10,457.18" fill="#000" stroke="none" stroke-width="0" />
<circle cx="467.30" cy="450.10" r="2.50" fill="#000" stroke="none" stroke-width="0"/>
<circle cx="461.90" cy="459.30" r="2.50" fill="#000" stroke="none" stroke-width="0"/>
<circle cx="472.80" cy="457.60" r="2.50" fill="#000" stroke="none" stroke-width="0"/>
<rect x="479.50" y="493.60" width="5.00" height="5.00" fill="#000" stroke="none" stroke-width="0"/>
<rect x="479.50" y="499.70" width="5.00" height="5.00" fill="#000" stroke="none" stroke-width="0"/>
<rect x="489.70" y="497.20" width="5.00" height="5.00" fill="#000" stroke="none" stroke-width="0"/>
<polygon points="503.70,454.62 509.30,454.62 506.50,449.58" fill="#000" stroke="none" stroke-width="0" />
<polygon points="498.60,464.82 504.20,464.82 501.40,459.78" fill="#000" stroke="none" stroke-width="0" />
<polygon points="509.40,464.82 515.00,464.82 512.20,459.78" fill="#000" stroke="none" stroke-width="0" />
<circle cx="528.60" cy="527.00" r="2.50" fill="#000" stroke="none" stroke-width="0"/>
<circle cx="534.30" cy="526.20" r="2.50" fill="#000" stroke="none" stroke-width="0"/>
<circle cx="539.30" cy="527.00" r="2.50" fill="#000" stroke="none" stroke-width="0"/>
<rect x="545.70" y="513.30" width="5.00" height="5.00" fill="#000" stroke="none" stroke-width="0"/>
<rect x="545.70" y="519.20" width="5.00" height="5.00" fill="#000" stroke="none" stroke-width="0"/>
<rect x="556.60" y="516.50" width="5.00" height="5.00" fill="#000" stroke="none" stroke-width="0"/>
<polygon points="565.50,532.72 571.10,532.72 568.30,527.68" fill="#000" stroke="none" stroke-width="0" />
<polygon points="575.90,535.62 581.50,535.62 578.70,530.58" fill="#000" stroke="none" stroke-width="0" />
<polygon points="565.50,537.52 571.10,537.52 568.30,532.48" fill="#000" stroke="none" stroke-width="0" />
<text x="393.70" y="434.30" font-size="10.9" text-anchor="start" font-weight="normal" fill="#000" textLength="30.7" lengthAdjust="spacingAndGlyphs" >p=0.03</text>
<line x1="400.20" y1="437.80" x2="420.20" y2="437.80" stroke="#000" stroke-width="1.4" />
<text x="410.70" y="413.90" font-size="10.9" text-anchor="start" font-weight="normal" fill="#000" textLength="36.6" lengthAdjust="spacingAndGlyphs" >p=0.049</text>
<line x1="419.00" y1="420.40" x2="439.50" y2="420.40" stroke="#000" stroke-width="1.4" />
<text x="460.70" y="439.90" font-size="10.9" text-anchor="start" font-weight="normal" fill="#000" textLength="36.7" lengthAdjust="spacingAndGlyphs" >p=0.008</text>
<line x1="469.30" y1="443.50" x2="489.70" y2="443.50" stroke="#000" stroke-width="1.4" />
<text x="483.60" y="419.40" font-size="10.9" text-anchor="start" font-weight="normal" fill="#000" textLength="30.8" lengthAdjust="spacingAndGlyphs" >p=0.02</text>
<line x1="488.10" y1="426.60" x2="508.90" y2="426.60" stroke="#000" stroke-width="1.4" />
<text x="528.10" y="502.90" font-size="10.9" text-anchor="start" font-weight="normal" fill="#000" textLength="31.1" lengthAdjust="spacingAndGlyphs" >p=0.23</text>
<line x1="533.70" y1="505.30" x2="554.30" y2="505.30" stroke="#000" stroke-width="1.4" />
<text x="549.30" y="483.20" font-size="10.9" text-anchor="start" font-weight="normal" fill="#000" textLength="30.8" lengthAdjust="spacingAndGlyphs" >p=0.06</text>
<line x1="552.70" y1="488.10" x2="573.10" y2="488.10" stroke="#000" stroke-width="1.4" />
<rect x="575.8" y="412.40" width="19.4" height="7.2" fill="#FFDD00" stroke="#000" stroke-width="1.5"/>
<text x="608.00" y="418.70" font-size="13.1" text-anchor="start" font-weight="normal" fill="#000" >Oxidized</text>
<rect x="575.8" y="431.10" width="19.4" height="7.2" fill="#0096FF" stroke="#000" stroke-width="1.5"/>
<text x="608.00" y="437.70" font-size="13.1" text-anchor="start" font-weight="normal" fill="#000" >Reduced</text>
<rect x="575.8" y="449.80" width="19.4" height="7.2" fill="#808080" stroke="#000" stroke-width="1.5"/>
<text x="608.00" y="456.70" font-size="13.1" text-anchor="start" font-weight="normal" fill="#000" >Bystanders</text>
<text x="12.30" y="616.00" font-size="16.5" text-anchor="start" font-weight="bold" fill="#000"  letter-spacing="1.3">F.</text>
<text x="113.60" y="627.00" font-size="13.6" text-anchor="start" font-weight="normal" fill="#000" >MitoROS</text>
<line x1="64.80" y1="650.90" x2="64.80" y2="799.80" stroke="#000" stroke-width="1.6" />
<line x1="64.00" y1="799.00" x2="210.90" y2="799.00" stroke="#000" stroke-width="1.6" />
<line x1="55.20" y1="799.00" x2="64.80" y2="799.00" stroke="#000" stroke-width="1.6" />
<text x="51.50" y="803.70" font-size="13.2" text-anchor="end" font-weight="normal" fill="#000" >0</text>
<line x1="55.20" y1="749.90" x2="64.80" y2="749.90" stroke="#000" stroke-width="1.6" />
<text x="51.50" y="754.60" font-size="13.2" text-anchor="end" font-weight="normal" fill="#000" >600</text>
<line x1="55.20" y1="700.80" x2="64.80" y2="700.80" stroke="#000" stroke-width="1.6" />
<text x="51.50" y="705.50" font-size="13.2" text-anchor="end" font-weight="normal" fill="#000" >1200</text>
<line x1="55.20" y1="651.71" x2="64.80" y2="651.71" stroke="#000" stroke-width="1.6" />
<text x="51.50" y="656.41" font-size="13.2" text-anchor="end" font-weight="normal" fill="#000" >1800</text>
<text transform="translate(10.7 728.0) rotate(-90)" font-size="13.5" text-anchor="middle">MFI (a.u.)</text>
<rect x="70.85" y="717.95" width="20.90" height="81.05" fill="#5E5E5E" stroke="#000" stroke-width="1.5"/>
<rect x="99.15" y="732.75" width="20.90" height="66.25" fill="#0096FF" stroke="#000" stroke-width="1.5"/>
<rect x="127.45" y="720.45" width="20.90" height="78.55" fill="#FF2A00" stroke="#000" stroke-width="1.5"/>
<rect x="155.75" y="707.15" width="20.90" height="91.85" fill="#FFDD00" stroke="#000" stroke-width="1.5"/>
<rect x="184.15" y="656.85" width="20.90" height="142.15" fill="#BEBEBE" stroke="#000" stroke-width="1.5"/>
<rect x="70.30" y="717.00" width="4.80" height="4.80" fill="#000" stroke="none" stroke-width="0"/>
<circle cx="81.50" cy="715.00" r="2.40" fill="#000" stroke="none" stroke-width="0"/>
<circle cx="90.20" cy="715.40" r="2.40" fill="#000" stroke="none" stroke-width="0"/>
<rect x="98.60" y="731.00" width="4.80" height="4.80" fill="#000" stroke="none" stroke-width="0"/>
<rect x="107.00" y="728.30" width="4.80" height="4.80" fill="#000" stroke="none" stroke-width="0"/>
<rect x="115.70" y="729.60" width="4.80" height="4.80" fill="#000" stroke="none" stroke-width="0"/>
<polygon points="126.20,722.53 131.60,722.53 128.90,717.67" fill="#000" stroke="none" stroke-width="0" />
<polygon points="135.70,720.23 141.10,720.23 138.40,715.37" fill="#000" stroke="none" stroke-width="0" />
<polygon points="143.90,721.23 149.30,721.23 146.60,716.37" fill="#000" stroke="none" stroke-width="0" />
<polygon points="154.70,703.97 160.10,703.97 157.40,708.83" fill="#000" stroke="none" stroke-width="0" />
<polygon points="163.60,701.17 169.00,701.17 166.30,706.03" fill="#000" stroke="none" stroke-width="0" />
<polygon points="172.70,703.97 178.10,703.97 175.40,708.83" fill="#000" stroke="none" stroke-width="0" />
<polygon points="185.80,654.80 188.50,657.50 185.80,660.20 183.10,657.50" fill="#000" stroke="none" stroke-width="0" />
<polygon points="192.50,650.20 195.20,652.90 192.50,655.60 189.80,652.90" fill="#000" stroke="none" stroke-width="0" />
<polygon points="197.80,654.40 200.50,657.10 197.80,659.80 195.10,657.10" fill="#000" stroke="none" stroke-width="0" />
<polygon points="203.50,651.00 206.20,653.70 203.50,656.40 200.80,653.70" fill="#000" stroke="none" stroke-width="0" />
<line x1="81.30" y1="713.50" x2="81.30" y2="717.00" stroke="#000" stroke-width="1.6" />
<line x1="78.55" y1="713.50" x2="84.05" y2="713.50" stroke="#000" stroke-width="1.6" />
<line x1="137.90" y1="716.50" x2="137.90" y2="720.00" stroke="#000" stroke-width="1.6" />
<line x1="135.15" y1="716.50" x2="140.65" y2="716.50" stroke="#000" stroke-width="1.6" />
<line x1="166.20" y1="702.80" x2="166.20" y2="706.00" stroke="#000" stroke-width="1.6" />
<line x1="163.45" y1="702.80" x2="168.95" y2="702.80" stroke="#000" stroke-width="1.6" />
<line x1="194.60" y1="653.00" x2="194.60" y2="656.00" stroke="#000" stroke-width="1.6" />
<line x1="191.85" y1="653.00" x2="197.35" y2="653.00" stroke="#000" stroke-width="1.6" />
<text x="118.60" y="678.90" font-size="10.9" text-anchor="start" font-weight="normal" fill="#000" textLength="37.0" lengthAdjust="spacingAndGlyphs" >p=0.002</text>
<line x1="108.40" y1="682.70" x2="166.90" y2="682.70" stroke="#000" stroke-width="1.4" />
<text x="133.20" y="694.10" font-size="10.9" text-anchor="start" font-weight="normal" fill="#000" textLength="35.7" lengthAdjust="spacingAndGlyphs" >p=0.015</text>
<line x1="136.50" y1="697.50" x2="166.90" y2="697.50" stroke="#000" stroke-width="1.4" />
<text x="107.20" y="711.70" font-size="10.9" text-anchor="start" font-weight="normal" fill="#000" textLength="35.7" lengthAdjust="spacingAndGlyphs" >p=0.003</text>
<line x1="108.40" y1="715.30" x2="139.00" y2="715.30" stroke="#000" stroke-width="1.4" />
<circle cx="232.60" cy="661.90" r="2.50" fill="#000" stroke="none" stroke-width="0"/>
<text x="261.30" y="665.90" font-size="13.0" text-anchor="start" font-weight="normal" fill="#000" >Bystanders</text>
<rect x="230.10" y="677.80" width="5.00" height="5.00" fill="#000" stroke="none" stroke-width="0"/>
<text x="261.30" y="684.30" font-size="13.0" text-anchor="start" font-weight="normal" fill="#000" >Reduced</text>
<polygon points="230.10,701.45 235.10,701.45 232.60,696.95" fill="#000" stroke="none" stroke-width="0" />
<text x="261.30" y="702.70" font-size="13.0" text-anchor="start" font-weight="normal" fill="#000" >Basal</text>
<polygon points="230.10,714.85 235.10,714.85 232.60,719.35" fill="#000" stroke="none" stroke-width="0" />
<text x="261.30" y="721.50" font-size="13.0" text-anchor="start" font-weight="normal" fill="#000" >Oxidized</text>
<polygon points="232.60,733.30 235.30,736.00 232.60,738.70 229.90,736.00" fill="#000" stroke="none" stroke-width="0" />
<text x="261.30" y="740.40" font-size="13.0" text-anchor="start" font-weight="normal" fill="#000" >Antimycin</text>
<text x="358.20" y="616.10" font-size="16.5" text-anchor="start" font-weight="bold" fill="#000"  letter-spacing="1.3">G.</text>
<text x="469.60" y="629.30" font-size="13.9" text-anchor="start" font-weight="normal" fill="#000" >Cellular ROS</text>
<line x1="424.60" y1="654.00" x2="424.60" y2="802.40" stroke="#000" stroke-width="1.6" />
<line x1="423.80" y1="801.60" x2="571.60" y2="801.60" stroke="#000" stroke-width="1.6" />
<line x1="417.60" y1="801.60" x2="424.60" y2="801.60" stroke="#000" stroke-width="1.6" />
<text x="413.80" y="806.30" font-size="13.2" text-anchor="end" font-weight="normal" fill="#000" >0</text>
<line x1="417.60" y1="764.90" x2="424.60" y2="764.90" stroke="#000" stroke-width="1.6" />
<text x="413.80" y="769.60" font-size="13.2" text-anchor="end" font-weight="normal" fill="#000" >200</text>
<line x1="417.60" y1="728.20" x2="424.60" y2="728.20" stroke="#000" stroke-width="1.6" />
<text x="413.80" y="732.90" font-size="13.2" text-anchor="end" font-weight="normal" fill="#000" >400</text>
<line x1="417.60" y1="691.50" x2="424.60" y2="691.50" stroke="#000" stroke-width="1.6" />
<text x="413.80" y="696.20" font-size="13.2" text-anchor="end" font-weight="normal" fill="#000" >600</text>
<line x1="417.60" y1="654.80" x2="424.60" y2="654.80" stroke="#000" stroke-width="1.6" />
<text x="413.80" y="659.50" font-size="13.2" text-anchor="end" font-weight="normal" fill="#000" >800</text>
<text transform="translate(378.3 732.1) rotate(-90)" font-size="13.6" text-anchor="middle">MFI (a.u.)</text>
<rect x="430.95" y="696.55" width="20.60" height="105.05" fill="#5E5E5E" stroke="#000" stroke-width="1.5"/>
<rect x="458.95" y="746.25" width="20.60" height="55.35" fill="#0096FF" stroke="#000" stroke-width="1.5"/>
<rect x="487.05" y="718.65" width="20.60" height="82.95" fill="#FF2A00" stroke="#000" stroke-width="1.5"/>
<rect x="515.15" y="696.55" width="20.60" height="105.05" fill="#FFDD00" stroke="#000" stroke-width="1.5"/>
<rect x="543.30" y="671.25" width="20.60" height="130.35" fill="#BEBEBE" stroke="#000" stroke-width="1.5"/>
<line x1="441.10" y1="685.50" x2="441.10" y2="708.50" stroke="#000" stroke-width="1.4" />
<line x1="438.80" y1="685.50" x2="443.40" y2="685.50" stroke="#000" stroke-width="1.4" />
<line x1="438.80" y1="708.50" x2="443.40" y2="708.50" stroke="#000" stroke-width="1.4" />
<line x1="497.30" y1="710.50" x2="497.30" y2="718.00" stroke="#000" stroke-width="1.4" />
<line x1="495.00" y1="710.50" x2="499.60" y2="710.50" stroke="#000" stroke-width="1.4" />
<line x1="525.50" y1="688.20" x2="525.50" y2="699.50" stroke="#000" stroke-width="1.4" />
<line x1="523.20" y1="688.20" x2="527.80" y2="688.20" stroke="#000" stroke-width="1.4" />
<line x1="523.20" y1="699.50" x2="527.80" y2="699.50" stroke="#000" stroke-width="1.4" />
<line x1="553.90" y1="660.00" x2="553.90" y2="671.00" stroke="#000" stroke-width="1.4" />
<circle cx="435.90" cy="685.60" r="2.50" fill="#000" stroke="none" stroke-width="0"/>
<circle cx="446.20" cy="688.90" r="2.50" fill="#000" stroke="none" stroke-width="0"/>
<circle cx="441.10" cy="695.00" r="2.50" fill="#000" stroke="none" stroke-width="0"/>
<circle cx="441.10" cy="701.10" r="2.50" fill="#000" stroke="none" stroke-width="0"/>
<circle cx="441.10" cy="708.10" r="2.50" fill="#000" stroke="none" stroke-width="0"/>
<rect x="458.00" y="745.00" width="5.00" height="5.00" fill="#000" stroke="none" stroke-width="0"/>
<rect x="464.10" y="743.60" width="5.00" height="5.00" fill="#000" stroke="none" stroke-width="0"/>
<rect x="469.60" y="739.50" width="5.00" height="5.00" fill="#000" stroke="none" stroke-width="0"/>
<rect x="475.10" y="744.40" width="5.00" height="5.00" fill="#000" stroke="none" stroke-width="0"/>
<rect x="464.10" y="751.10" width="5.00" height="5.00" fill="#000" stroke="none" stroke-width="0"/>
<rect x="470.20" y="748.50" width="5.00" height="5.00" fill="#000" stroke="none" stroke-width="0"/>
<polygon points="494.50,708.52 500.10,708.52 497.30,703.48" fill="#000" stroke="none" stroke-width="0" />
<polygon points="485.70,719.42 491.30,719.42 488.50,714.38" fill="#000" stroke="none" stroke-width="0" />
<polygon points="504.10,720.82 509.70,720.82 506.90,715.78" fill="#000" stroke="none" stroke-width="0" />
<polygon points="490.40,726.12 496.00,726.12 493.20,721.08" fill="#000" stroke="none" stroke-width="0" />
<polygon points="499.40,726.12 505.00,726.12 502.20,721.08" fill="#000" stroke="none" stroke-width="0" />
<polygon points="522.50,679.58 528.10,679.58 525.30,684.62" fill="#000" stroke="none" stroke-width="0" />
<polygon points="513.70,692.48 519.30,692.48 516.50,697.52" fill="#000" stroke="none" stroke-width="0" />
<polygon points="531.60,689.78 537.20,689.78 534.40,694.82" fill="#000" stroke="none" stroke-width="0" />
<polygon points="523.10,703.08 528.70,703.08 525.90,708.12" fill="#000" stroke="none" stroke-width="0" />
<polygon points="548.30,674.20 551.10,677.00 548.30,679.80 545.50,677.00" fill="#000" stroke="none" stroke-width="0" />
<polygon points="558.00,672.60 560.80,675.40 558.00,678.20 555.20,675.40" fill="#000" stroke="none" stroke-width="0" />
<polygon points="551.10,661.52 556.70,661.52 553.90,656.48" fill="#000" stroke="none" stroke-width="0" />
<text x="476.00" y="648.80" font-size="10.9" text-anchor="start" font-weight="normal" fill="#000" textLength="40.6" lengthAdjust="spacingAndGlyphs" >p&lt;0.0001</text>
<line x1="468.60" y1="658.60" x2="526.70" y2="658.60" stroke="#000" stroke-width="1.4" />
<text x="491.80" y="669.90" font-size="10.9" text-anchor="start" font-weight="normal" fill="#000" textLength="36.2" lengthAdjust="spacingAndGlyphs" >p=0.006</text>
<line x1="494.60" y1="675.00" x2="526.70" y2="675.00" stroke="#000" stroke-width="1.4" />
<text x="463.80" y="689.30" font-size="10.9" text-anchor="start" font-weight="normal" fill="#000" textLength="41.1" lengthAdjust="spacingAndGlyphs" >p&lt;0.0001</text>
<line x1="468.60" y1="692.30" x2="500.70" y2="692.30" stroke="#000" stroke-width="1.4" />
<circle cx="591.30" cy="658.00" r="2.50" fill="#000" stroke="none" stroke-width="0"/>
<text x="620.00" y="662.40" font-size="13.0" text-anchor="start" font-weight="normal" fill="#000" >Bystanders</text>
<rect x="588.80" y="674.80" width="5.00" height="5.00" fill="#000" stroke="none" stroke-width="0"/>
<text x="620.00" y="681.70" font-size="13.0" text-anchor="start" font-weight="normal" fill="#000" >Reduced</text>
<polygon points="588.80,699.15 593.80,699.15 591.30,694.65" fill="#000" stroke="none" stroke-width="0" />
<text x="620.00" y="701.00" font-size="13.0" text-anchor="start" font-weight="normal" fill="#000" >Basal</text>
<polygon points="588.80,713.95 593.80,713.95 591.30,718.45" fill="#000" stroke="none" stroke-width="0" />
<text x="620.00" y="720.20" font-size="13.0" text-anchor="start" font-weight="normal" fill="#000" >Oxidized</text>
<polygon points="591.30,733.30 594.00,736.00 591.30,738.70 588.60,736.00" fill="#000" stroke="none" stroke-width="0" />
<text x="620.00" y="740.00" font-size="13.0" text-anchor="start" font-weight="normal" fill="#000" >Menadione</text>
</svg></body></html>
